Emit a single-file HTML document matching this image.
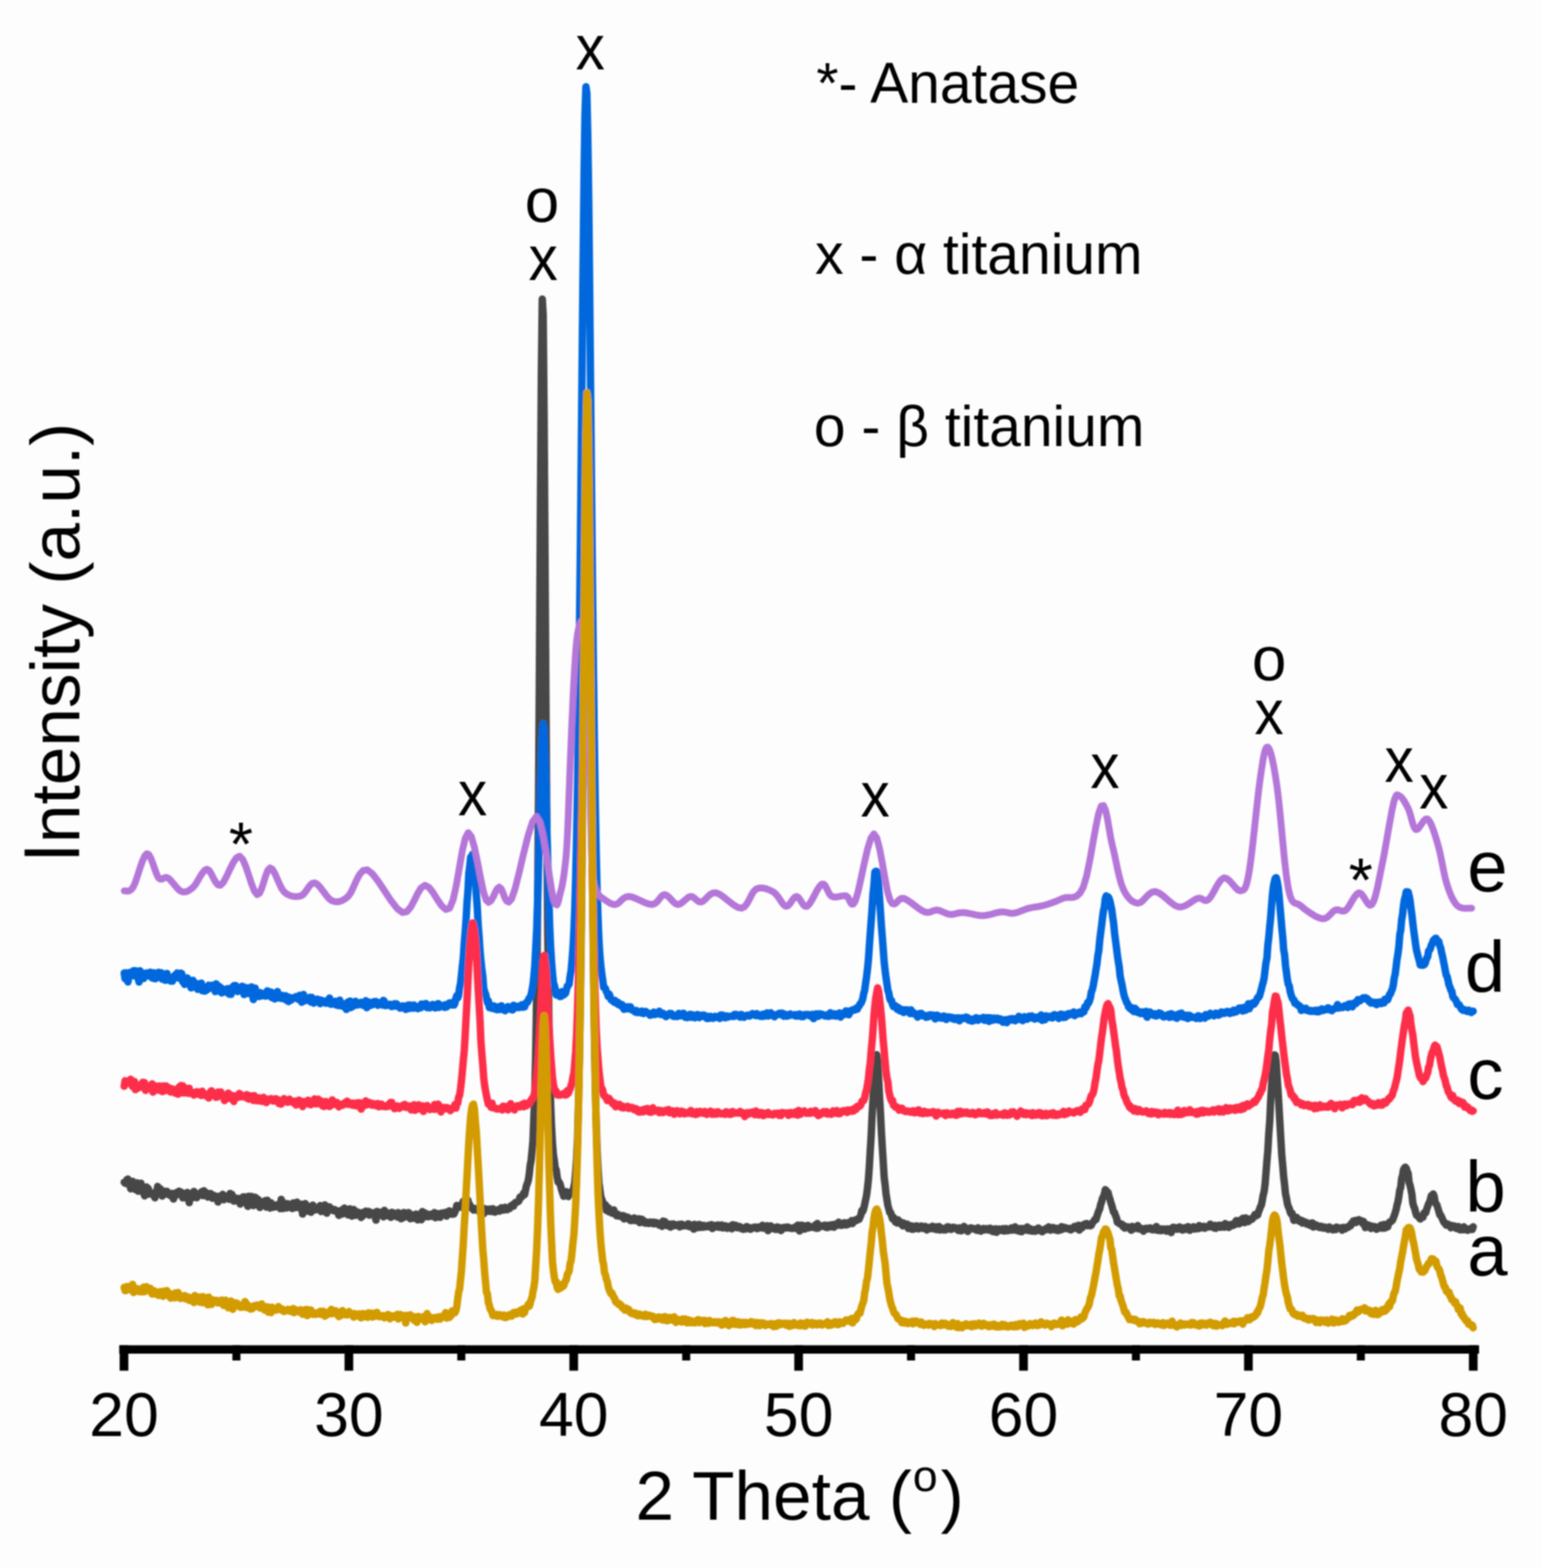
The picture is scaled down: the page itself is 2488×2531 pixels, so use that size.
<!DOCTYPE html>
<html><head><meta charset="utf-8"><style>
html,body{margin:0;padding:0;background:#fdfdfd;}
svg{display:block;}
text{font-family:"Liberation Sans", Arial, Helvetica, sans-serif;fill:#000;}
</style></head><body>
<svg width="2488" height="2531" viewBox="0 0 2488 2531">
<defs><filter id="soft" x="0" y="0" width="2488" height="2531" filterUnits="userSpaceOnUse"><feGaussianBlur stdDeviation="0.8"/></filter></defs>
<rect width="2488" height="2531" fill="#fdfdfd"/>
<g filter="url(#soft)">
<g fill="none" stroke-linejoin="round" stroke-linecap="round">
<path d="M200.5 1908.4L202.0 1909.8L203.5 1910.3L205.0 1904.1L206.5 1903.3L208.0 1911.5L209.5 1912.8L211.0 1918.9L212.5 1914.6L214.0 1906.9L215.5 1916.3L217.0 1918.5L218.5 1920.1L220.0 1917.1L221.5 1909.3L223.0 1922.8L224.5 1913.2L226.0 1920.8L227.5 1909.9L229.0 1923.1L230.5 1915.4L232.0 1926.0L233.5 1930.3L235.0 1927.7L236.5 1915.9L238.0 1917.7L239.5 1918.7L241.0 1927.5L242.5 1925.9L244.0 1925.0L245.5 1925.9L247.0 1927.4L248.5 1927.9L250.0 1933.4L251.5 1924.3L253.0 1925.8L254.5 1915.1L256.0 1918.0L257.5 1921.4L259.0 1918.9L260.5 1926.4L262.0 1930.7L263.5 1923.1L265.0 1923.0L266.5 1922.9L268.0 1926.3L269.5 1923.0L271.0 1928.1L272.5 1927.5L274.0 1927.8L275.5 1930.1L277.0 1926.4L278.5 1927.1L280.0 1935.4L281.5 1926.3L283.0 1930.7L284.5 1927.0L286.0 1924.5L287.5 1924.6L289.0 1922.8L290.5 1927.2L292.0 1924.1L293.5 1925.2L295.0 1933.5L296.5 1926.8L298.0 1933.3L299.5 1929.0L301.0 1932.1L302.5 1924.8L304.0 1928.8L305.5 1941.3L307.0 1932.4L308.5 1933.4L310.0 1929.8L311.5 1933.0L313.0 1923.2L314.5 1924.8L316.0 1931.3L317.5 1933.4L319.0 1927.5L320.5 1928.7L322.0 1928.0L323.5 1929.0L325.0 1924.2L326.5 1923.2L328.0 1929.9L329.5 1922.1L331.0 1925.9L332.5 1927.6L334.0 1925.8L335.5 1932.2L337.0 1929.0L338.5 1930.9L340.0 1926.6L341.5 1928.1L343.0 1934.2L344.5 1933.6L346.0 1929.8L347.5 1933.9L349.0 1933.2L350.5 1933.2L352.0 1940.2L353.5 1930.9L355.0 1934.9L356.5 1935.0L358.0 1932.1L359.5 1927.8L361.0 1936.7L362.5 1934.8L364.0 1934.0L365.5 1934.1L367.0 1934.3L368.5 1930.2L370.0 1935.9L371.5 1926.4L373.0 1934.8L374.5 1928.2L376.0 1933.7L377.5 1938.8L379.0 1934.5L380.5 1933.7L382.0 1938.4L383.5 1935.0L385.0 1934.6L386.5 1934.8L388.0 1943.7L389.5 1940.1L391.0 1939.4L392.5 1932.0L394.0 1940.4L395.5 1932.0L397.0 1940.2L398.5 1933.2L400.0 1947.2L401.5 1931.0L403.0 1944.2L404.5 1942.5L406.0 1931.2L407.5 1938.3L409.0 1946.0L410.5 1944.8L412.0 1932.6L413.5 1937.8L415.0 1935.1L416.5 1936.0L418.0 1937.9L419.5 1949.0L421.0 1941.7L422.5 1940.3L424.0 1940.0L425.5 1944.5L427.0 1944.8L428.5 1937.9L430.0 1948.4L431.5 1937.5L433.0 1941.2L434.5 1944.4L436.0 1950.0L437.5 1941.3L439.0 1944.2L440.5 1948.7L442.0 1945.9L443.5 1948.2L445.0 1947.9L446.5 1944.8L448.0 1946.5L449.5 1947.8L451.0 1944.0L452.5 1951.0L454.0 1936.0L455.5 1940.7L457.0 1950.7L458.5 1946.6L460.0 1942.3L461.5 1946.7L463.0 1949.8L464.5 1943.1L466.0 1948.7L467.5 1945.2L469.0 1945.4L470.5 1945.7L472.0 1950.7L473.5 1941.7L475.0 1945.0L476.5 1949.3L478.0 1941.8L479.5 1940.5L481.0 1949.3L482.5 1947.2L484.0 1946.7L485.5 1948.1L487.0 1943.8L488.5 1959.6L490.0 1944.2L491.5 1946.5L493.0 1942.8L494.5 1947.0L496.0 1954.9L497.5 1949.2L499.0 1951.6L500.5 1947.6L502.0 1956.8L503.5 1950.5L505.0 1945.2L506.5 1953.3L508.0 1949.0L509.5 1953.0L511.0 1951.4L512.5 1952.1L514.0 1951.8L515.5 1948.0L517.0 1945.9L518.5 1955.6L520.0 1951.5L521.5 1953.3L523.0 1950.7L524.5 1944.9L526.0 1948.0L527.5 1958.3L529.0 1950.3L530.5 1952.0L532.0 1948.1L533.5 1951.8L535.0 1952.6L536.5 1953.4L538.0 1954.1L539.5 1952.3L541.0 1952.7L542.5 1954.9L544.0 1956.4L545.5 1954.8L547.0 1961.8L548.5 1956.3L550.0 1956.2L551.5 1953.3L553.0 1959.6L554.5 1952.2L556.0 1950.1L557.5 1952.6L559.0 1958.4L560.5 1952.2L562.0 1961.0L563.5 1956.4L565.0 1951.2L566.5 1955.9L568.0 1963.1L569.5 1953.8L571.0 1952.3L572.5 1958.9L574.0 1961.7L575.5 1960.8L577.0 1956.2L578.5 1958.1L580.0 1958.6L581.5 1961.7L583.0 1965.2L584.5 1957.4L586.0 1962.4L587.5 1956.8L589.0 1960.1L590.5 1955.0L592.0 1955.6L593.5 1959.8L595.0 1955.4L596.5 1961.5L598.0 1956.8L599.5 1959.0L601.0 1958.5L602.5 1957.8L604.0 1959.4L605.5 1962.7L607.0 1969.5L608.5 1955.4L610.0 1960.4L611.5 1959.0L613.0 1956.7L614.5 1960.7L616.0 1957.0L617.5 1959.8L619.0 1964.2L620.5 1953.7L622.0 1961.2L623.5 1961.9L625.0 1957.5L626.5 1962.4L628.0 1962.0L629.5 1959.8L631.0 1964.9L632.5 1957.0L634.0 1963.3L635.5 1960.7L637.0 1958.2L638.5 1961.1L640.0 1960.6L641.5 1964.4L643.0 1957.3L644.5 1961.5L646.0 1960.8L647.5 1967.2L649.0 1959.0L650.5 1965.8L652.0 1957.2L653.5 1963.8L655.0 1962.4L656.5 1964.1L658.0 1960.9L659.5 1957.3L661.0 1958.6L662.5 1967.3L664.0 1964.1L665.5 1961.0L667.0 1966.4L668.5 1961.4L670.0 1961.3L671.5 1959.8L673.0 1966.8L674.5 1969.0L676.0 1960.3L677.5 1963.8L679.0 1965.7L680.5 1968.9L682.0 1955.7L683.5 1963.0L685.0 1964.3L686.5 1958.1L688.0 1963.4L689.5 1962.7L691.0 1964.1L692.5 1960.3L694.0 1963.0L695.5 1960.0L697.0 1963.3L698.5 1961.9L700.0 1960.3L701.5 1957.3L703.0 1965.7L704.5 1964.1L706.0 1963.3L707.5 1958.9L709.0 1959.7L710.5 1965.1L712.0 1962.4L713.5 1957.9L715.0 1960.2L716.5 1960.3L718.0 1959.2L719.5 1957.0L721.0 1962.9L722.5 1960.9L724.0 1958.5L725.5 1954.5L727.0 1957.0L728.5 1958.2L730.0 1960.1L731.5 1956.2L733.0 1959.5L734.5 1956.0L736.0 1952.6L737.5 1945.8L739.0 1948.8L740.5 1946.3L742.0 1948.2L743.5 1947.7L745.0 1948.7L746.5 1943.3L748.0 1938.8L749.5 1946.9L751.0 1940.8L752.5 1939.1L754.0 1939.5L755.5 1937.4L757.0 1943.8L758.5 1944.6L760.0 1949.4L761.5 1949.7L763.0 1950.7L764.5 1953.2L766.0 1950.4L767.5 1951.1L769.0 1953.1L770.5 1950.7L772.0 1954.2L773.5 1954.1L775.0 1957.0L776.5 1955.4L778.0 1950.7L779.5 1955.7L781.0 1959.2L782.5 1950.9L784.0 1953.6L785.5 1955.4L787.0 1951.9L788.5 1953.8L790.0 1955.2L791.5 1951.5L793.0 1955.4L794.5 1955.5L796.0 1951.1L797.5 1954.2L799.0 1956.6L800.5 1953.2L802.0 1954.5L803.5 1954.8L805.0 1952.3L806.5 1955.0L808.0 1953.2L809.5 1949.5L811.0 1952.9L812.5 1953.3L814.0 1952.8L815.5 1948.8L817.0 1951.0L818.5 1952.7L820.0 1949.4L821.5 1951.1L823.0 1950.7L824.5 1946.8L826.0 1947.7L827.5 1944.6L829.0 1947.0L830.5 1943.2L832.0 1941.1L833.5 1941.2L835.0 1939.9L836.5 1939.6L838.0 1938.2L839.5 1932.5L841.0 1931.8L842.5 1931.9L844.0 1929.7L845.5 1925.8L847.0 1928.4L848.5 1920.9L850.0 1913.6L851.5 1910.1L853.0 1905.1L854.5 1895.2L856.0 1880.9L857.5 1873.4L859.0 1857.9L860.5 1841.8L862.0 1802.6L863.5 1766.1L865.0 1696.3L866.5 1602.3L868.0 1464.1L869.5 1286.0L871.0 1068.6L872.5 825.2L874.0 609.6L875.5 482.8L877.0 508.4L878.5 672.4L880.0 904.0L881.5 1142.1L883.0 1352.5L884.5 1511.1L886.0 1631.5L887.5 1720.2L889.0 1781.6L890.5 1818.8L892.0 1845.6L893.5 1864.0L895.0 1873.4L896.5 1885.9L898.0 1888.2L899.5 1899.6L901.0 1907.9L902.5 1907.8L904.0 1910.6L905.5 1915.6L907.0 1921.6L908.5 1925.9L910.0 1930.9L911.5 1929.8L913.0 1924.5L914.5 1923.6L916.0 1929.4L917.5 1931.4L919.0 1925.5L920.5 1927.1L922.0 1926.0L923.5 1924.9L925.0 1920.9L926.5 1916.7L928.0 1908.5L929.5 1891.6L931.0 1869.6L932.5 1836.7L934.0 1778.7L935.5 1706.8L937.0 1615.3L938.5 1499.8L940.0 1357.7L941.5 1208.2L943.0 1053.0L944.5 918.8L946.0 813.1L947.5 764.9L949.0 775.2L950.5 845.7L952.0 964.4L953.5 1108.5L955.0 1259.4L956.5 1411.5L958.0 1539.5L959.5 1656.3L961.0 1747.6L962.5 1808.8L964.0 1855.5L965.5 1886.5L967.0 1909.2L968.5 1920.5L970.0 1931.7L971.5 1935.8L973.0 1939.7L974.5 1943.9L976.0 1946.0L977.5 1944.7L979.0 1954.0L980.5 1951.7L982.0 1949.4L983.5 1956.1L985.0 1955.0L986.5 1956.4L988.0 1958.3L989.5 1956.1L991.0 1952.9L992.5 1959.1L994.0 1960.4L995.5 1962.5L997.0 1959.7L998.5 1961.2L1000.0 1963.0L1001.5 1962.1L1003.0 1962.7L1004.5 1964.1L1006.0 1962.2L1007.5 1967.6L1009.0 1963.3L1010.5 1965.5L1012.0 1965.2L1013.5 1964.9L1015.0 1967.6L1016.5 1968.9L1018.0 1970.1L1019.5 1968.8L1021.0 1967.1L1022.5 1970.0L1024.0 1965.9L1025.5 1969.0L1027.0 1970.3L1028.5 1970.6L1030.0 1967.7L1031.5 1967.3L1033.0 1973.6L1034.5 1969.7L1036.0 1967.9L1037.5 1968.9L1039.0 1971.6L1040.5 1974.0L1042.0 1972.0L1043.5 1974.6L1045.0 1973.0L1046.5 1973.7L1048.0 1974.9L1049.5 1972.6L1051.0 1974.1L1052.5 1973.1L1054.0 1972.8L1055.5 1975.5L1057.0 1973.0L1058.5 1974.9L1060.0 1973.5L1061.5 1975.0L1063.0 1974.4L1064.5 1977.7L1066.0 1976.0L1067.5 1976.3L1069.0 1979.5L1070.5 1971.1L1072.0 1974.7L1073.5 1971.8L1075.0 1977.2L1076.5 1978.1L1078.0 1978.5L1079.5 1977.9L1081.0 1975.8L1082.5 1980.8L1084.0 1978.1L1085.5 1977.1L1087.0 1975.6L1088.5 1978.5L1090.0 1976.9L1091.5 1977.0L1093.0 1978.3L1094.5 1978.4L1096.0 1976.5L1097.5 1980.4L1099.0 1976.2L1100.5 1976.1L1102.0 1978.8L1103.5 1978.5L1105.0 1978.5L1106.5 1977.6L1108.0 1978.5L1109.5 1977.4L1111.0 1975.4L1112.5 1980.0L1114.0 1976.7L1115.5 1978.3L1117.0 1980.1L1118.5 1978.8L1120.0 1984.0L1121.5 1976.3L1123.0 1977.5L1124.5 1979.2L1126.0 1981.6L1127.5 1978.6L1129.0 1976.4L1130.5 1981.3L1132.0 1977.5L1133.5 1978.9L1135.0 1981.0L1136.5 1978.1L1138.0 1978.5L1139.5 1980.4L1141.0 1979.1L1142.5 1980.1L1144.0 1977.8L1145.5 1979.4L1147.0 1977.6L1148.5 1976.8L1150.0 1983.0L1151.5 1980.6L1153.0 1981.5L1154.5 1978.1L1156.0 1979.9L1157.5 1979.6L1159.0 1977.3L1160.5 1981.1L1162.0 1978.7L1163.5 1979.7L1165.0 1977.3L1166.5 1982.1L1168.0 1981.7L1169.5 1981.0L1171.0 1978.6L1172.5 1979.3L1174.0 1982.7L1175.5 1979.9L1177.0 1981.0L1178.5 1980.8L1180.0 1978.5L1181.5 1983.5L1183.0 1976.9L1184.5 1981.1L1186.0 1980.5L1187.5 1977.7L1189.0 1981.4L1190.5 1981.8L1192.0 1981.0L1193.5 1979.4L1195.0 1981.8L1196.5 1983.1L1198.0 1981.4L1199.5 1984.3L1201.0 1982.7L1202.5 1982.6L1204.0 1983.8L1205.5 1980.0L1207.0 1980.3L1208.5 1982.2L1210.0 1982.3L1211.5 1984.2L1213.0 1983.5L1214.5 1981.7L1216.0 1981.9L1217.5 1981.0L1219.0 1980.8L1220.5 1980.7L1222.0 1983.3L1223.5 1980.8L1225.0 1981.0L1226.5 1982.0L1228.0 1980.8L1229.5 1981.3L1231.0 1977.7L1232.5 1982.5L1234.0 1981.3L1235.5 1982.3L1237.0 1982.6L1238.5 1978.5L1240.0 1986.5L1241.5 1982.4L1243.0 1982.5L1244.5 1978.8L1246.0 1983.3L1247.5 1982.9L1249.0 1981.5L1250.5 1982.6L1252.0 1984.5L1253.5 1981.5L1255.0 1980.4L1256.5 1984.6L1258.0 1982.5L1259.5 1981.7L1261.0 1986.3L1262.5 1982.3L1264.0 1981.6L1265.5 1982.4L1267.0 1981.1L1268.5 1982.2L1270.0 1982.1L1271.5 1980.5L1273.0 1981.2L1274.5 1982.3L1276.0 1982.4L1277.5 1982.7L1279.0 1983.0L1280.5 1982.0L1282.0 1982.4L1283.5 1980.7L1285.0 1980.9L1286.5 1983.3L1288.0 1977.6L1289.5 1981.9L1291.0 1987.1L1292.5 1977.7L1294.0 1983.9L1295.5 1977.8L1297.0 1981.7L1298.5 1984.0L1300.0 1983.6L1301.5 1979.1L1303.0 1978.3L1304.5 1978.0L1306.0 1982.0L1307.5 1979.8L1309.0 1980.5L1310.5 1980.9L1312.0 1981.1L1313.5 1981.3L1315.0 1980.5L1316.5 1977.2L1318.0 1982.8L1319.5 1975.0L1321.0 1982.3L1322.5 1978.8L1324.0 1979.5L1325.5 1978.8L1327.0 1979.0L1328.5 1979.5L1330.0 1979.0L1331.5 1977.4L1333.0 1980.9L1334.5 1978.1L1336.0 1981.6L1337.5 1978.7L1339.0 1977.6L1340.5 1979.6L1342.0 1980.3L1343.5 1976.8L1345.0 1977.8L1346.5 1980.9L1348.0 1976.2L1349.5 1976.3L1351.0 1978.1L1352.5 1975.3L1354.0 1972.8L1355.5 1974.1L1357.0 1977.7L1358.5 1977.9L1360.0 1977.6L1361.5 1976.9L1363.0 1973.7L1364.5 1976.9L1366.0 1977.4L1367.5 1973.7L1369.0 1976.4L1370.5 1973.6L1372.0 1974.3L1373.5 1974.1L1375.0 1970.2L1376.5 1975.1L1378.0 1970.2L1379.5 1970.9L1381.0 1969.3L1382.5 1970.2L1384.0 1969.1L1385.5 1967.1L1387.0 1968.2L1388.5 1964.4L1390.0 1961.0L1391.5 1953.8L1393.0 1955.3L1394.5 1950.9L1396.0 1944.2L1397.5 1936.9L1399.0 1930.0L1400.5 1918.5L1402.0 1904.6L1403.5 1884.1L1405.0 1857.8L1406.5 1833.3L1408.0 1801.1L1409.5 1774.5L1411.0 1744.7L1412.5 1718.8L1414.0 1704.9L1415.5 1702.4L1417.0 1712.7L1418.5 1737.9L1420.0 1769.2L1421.5 1795.5L1423.0 1825.8L1424.5 1851.6L1426.0 1874.8L1427.5 1900.0L1429.0 1912.0L1430.5 1926.9L1432.0 1936.4L1433.5 1945.9L1435.0 1951.0L1436.5 1956.9L1438.0 1957.3L1439.5 1962.3L1441.0 1967.4L1442.5 1964.9L1444.0 1967.2L1445.5 1972.4L1447.0 1971.8L1448.5 1974.1L1450.0 1969.0L1451.5 1974.2L1453.0 1972.3L1454.5 1972.8L1456.0 1976.7L1457.5 1978.7L1459.0 1974.3L1460.5 1975.5L1462.0 1976.8L1463.5 1978.0L1465.0 1976.1L1466.5 1983.0L1468.0 1980.3L1469.5 1978.8L1471.0 1978.7L1472.5 1984.2L1474.0 1984.2L1475.5 1979.4L1477.0 1981.1L1478.5 1983.0L1480.0 1978.7L1481.5 1979.9L1483.0 1983.6L1484.5 1980.0L1486.0 1980.6L1487.5 1979.0L1489.0 1980.2L1490.5 1983.0L1492.0 1980.3L1493.5 1979.5L1495.0 1980.9L1496.5 1985.4L1498.0 1982.5L1499.5 1981.2L1501.0 1982.6L1502.5 1983.2L1504.0 1982.7L1505.5 1979.2L1507.0 1983.2L1508.5 1982.3L1510.0 1984.3L1511.5 1980.3L1513.0 1984.8L1514.5 1982.0L1516.0 1979.8L1517.5 1985.4L1519.0 1982.1L1520.5 1983.8L1522.0 1982.8L1523.5 1985.2L1525.0 1985.3L1526.5 1985.3L1528.0 1984.6L1529.5 1980.4L1531.0 1980.3L1532.5 1983.8L1534.0 1981.7L1535.5 1984.4L1537.0 1983.8L1538.5 1981.0L1540.0 1981.7L1541.5 1981.6L1543.0 1982.0L1544.5 1983.3L1546.0 1985.0L1547.5 1986.2L1549.0 1982.0L1550.5 1982.8L1552.0 1986.7L1553.5 1985.5L1555.0 1984.3L1556.5 1979.6L1558.0 1982.1L1559.5 1984.3L1561.0 1982.9L1562.5 1987.7L1564.0 1984.2L1565.5 1984.6L1567.0 1982.1L1568.5 1982.2L1570.0 1982.9L1571.5 1983.0L1573.0 1983.8L1574.5 1984.9L1576.0 1984.7L1577.5 1986.1L1579.0 1981.8L1580.5 1984.7L1582.0 1984.8L1583.5 1987.3L1585.0 1984.0L1586.5 1985.0L1588.0 1982.9L1589.5 1985.2L1591.0 1985.2L1592.5 1983.3L1594.0 1983.7L1595.5 1984.5L1597.0 1985.6L1598.5 1982.4L1600.0 1986.2L1601.5 1984.0L1603.0 1988.1L1604.5 1987.3L1606.0 1983.9L1607.5 1983.5L1609.0 1989.2L1610.5 1985.8L1612.0 1985.7L1613.5 1983.9L1615.0 1984.5L1616.5 1986.2L1618.0 1985.9L1619.5 1983.3L1621.0 1987.1L1622.5 1985.4L1624.0 1983.1L1625.5 1986.7L1627.0 1984.5L1628.5 1986.3L1630.0 1983.9L1631.5 1985.6L1633.0 1982.0L1634.5 1985.6L1636.0 1982.2L1637.5 1985.3L1639.0 1980.3L1640.5 1984.9L1642.0 1986.3L1643.5 1985.9L1645.0 1987.2L1646.5 1983.1L1648.0 1987.9L1649.5 1988.0L1651.0 1982.9L1652.5 1983.6L1654.0 1984.1L1655.5 1985.1L1657.0 1985.5L1658.5 1980.6L1660.0 1986.2L1661.5 1984.7L1663.0 1983.3L1664.5 1986.9L1666.0 1984.6L1667.5 1987.3L1669.0 1986.2L1670.5 1984.6L1672.0 1987.3L1673.5 1986.7L1675.0 1984.3L1676.5 1982.3L1678.0 1984.3L1679.5 1986.4L1681.0 1984.8L1682.5 1988.3L1684.0 1985.5L1685.5 1985.3L1687.0 1985.6L1688.5 1983.2L1690.0 1984.5L1691.5 1983.4L1693.0 1980.3L1694.5 1981.2L1696.0 1985.7L1697.5 1983.5L1699.0 1984.0L1700.5 1981.4L1702.0 1983.0L1703.5 1985.4L1705.0 1984.0L1706.5 1982.8L1708.0 1986.4L1709.5 1983.5L1711.0 1982.8L1712.5 1985.4L1714.0 1980.1L1715.5 1984.2L1717.0 1981.0L1718.5 1981.5L1720.0 1981.6L1721.5 1983.0L1723.0 1982.8L1724.5 1983.1L1726.0 1982.8L1727.5 1984.8L1729.0 1985.2L1730.5 1983.3L1732.0 1983.3L1733.5 1981.1L1735.0 1979.6L1736.5 1982.5L1738.0 1981.4L1739.5 1982.7L1741.0 1977.7L1742.5 1985.6L1744.0 1978.3L1745.5 1980.4L1747.0 1981.9L1748.5 1977.4L1750.0 1978.6L1751.5 1975.7L1753.0 1976.4L1754.5 1975.1L1756.0 1978.4L1757.5 1978.2L1759.0 1976.5L1760.5 1978.5L1762.0 1977.8L1763.5 1974.1L1765.0 1972.4L1766.5 1970.5L1768.0 1968.0L1769.5 1968.5L1771.0 1963.4L1772.5 1958.6L1774.0 1954.5L1775.5 1951.2L1777.0 1944.3L1778.5 1940.2L1780.0 1934.3L1781.5 1931.9L1783.0 1927.6L1784.5 1920.3L1786.0 1921.7L1787.5 1924.3L1789.0 1924.9L1790.5 1931.2L1792.0 1935.3L1793.5 1941.2L1795.0 1945.5L1796.5 1951.4L1798.0 1956.6L1799.5 1957.4L1801.0 1962.3L1802.5 1965.4L1804.0 1973.0L1805.5 1972.8L1807.0 1974.7L1808.5 1975.8L1810.0 1975.8L1811.5 1976.3L1813.0 1979.9L1814.5 1978.3L1816.0 1982.3L1817.5 1980.3L1819.0 1980.4L1820.5 1980.2L1822.0 1980.7L1823.5 1981.1L1825.0 1984.0L1826.5 1985.7L1828.0 1979.6L1829.5 1982.3L1831.0 1983.3L1832.5 1980.5L1834.0 1981.2L1835.5 1981.6L1837.0 1978.2L1838.5 1983.8L1840.0 1982.7L1841.5 1982.7L1843.0 1983.1L1844.5 1983.5L1846.0 1987.3L1847.5 1983.6L1849.0 1984.8L1850.5 1982.5L1852.0 1984.1L1853.5 1983.0L1855.0 1983.4L1856.5 1982.1L1858.0 1982.3L1859.5 1984.7L1861.0 1985.3L1862.5 1984.8L1864.0 1982.9L1865.5 1984.7L1867.0 1979.7L1868.5 1985.9L1870.0 1984.3L1871.5 1984.9L1873.0 1986.5L1874.5 1983.7L1876.0 1986.3L1877.5 1983.8L1879.0 1985.6L1880.5 1984.0L1882.0 1985.3L1883.5 1987.4L1885.0 1983.7L1886.5 1983.8L1888.0 1984.3L1889.5 1985.3L1891.0 1989.6L1892.5 1983.6L1894.0 1980.9L1895.5 1983.3L1897.0 1981.5L1898.5 1983.2L1900.0 1984.2L1901.5 1982.3L1903.0 1982.7L1904.5 1980.5L1906.0 1984.1L1907.5 1982.3L1909.0 1985.5L1910.5 1985.3L1912.0 1981.8L1913.5 1982.6L1915.0 1983.2L1916.5 1984.4L1918.0 1980.0L1919.5 1982.7L1921.0 1986.0L1922.5 1982.5L1924.0 1982.9L1925.5 1982.4L1927.0 1980.2L1928.5 1983.9L1930.0 1982.6L1931.5 1982.3L1933.0 1983.2L1934.5 1983.2L1936.0 1978.3L1937.5 1982.4L1939.0 1980.4L1940.5 1981.6L1942.0 1979.9L1943.5 1979.5L1945.0 1982.6L1946.5 1980.8L1948.0 1980.2L1949.5 1980.1L1951.0 1980.6L1952.5 1980.3L1954.0 1976.0L1955.5 1978.5L1957.0 1979.5L1958.5 1981.1L1960.0 1982.0L1961.5 1977.9L1963.0 1982.8L1964.5 1979.4L1966.0 1979.9L1967.5 1978.0L1969.0 1977.7L1970.5 1981.1L1972.0 1978.1L1973.5 1978.1L1975.0 1980.2L1976.5 1981.0L1978.0 1975.1L1979.5 1977.2L1981.0 1977.4L1982.5 1980.4L1984.0 1981.3L1985.5 1976.7L1987.0 1977.2L1988.5 1977.8L1990.0 1978.1L1991.5 1975.3L1993.0 1977.1L1994.5 1974.1L1996.0 1970.3L1997.5 1972.3L1999.0 1974.8L2000.5 1975.5L2002.0 1969.8L2003.5 1970.2L2005.0 1972.9L2006.5 1966.6L2008.0 1973.1L2009.5 1973.5L2011.0 1965.9L2012.5 1972.0L2014.0 1969.7L2015.5 1971.9L2017.0 1969.1L2018.5 1967.5L2020.0 1967.3L2021.5 1968.0L2023.0 1965.7L2024.5 1964.4L2026.0 1960.6L2027.5 1962.6L2029.0 1960.2L2030.5 1961.3L2032.0 1955.7L2033.5 1952.5L2035.0 1947.8L2036.5 1945.4L2038.0 1937.7L2039.5 1929.0L2041.0 1923.3L2042.5 1911.4L2044.0 1892.7L2045.5 1873.8L2047.0 1856.8L2048.5 1829.7L2050.0 1810.2L2051.5 1777.8L2053.0 1753.0L2054.5 1725.2L2056.0 1709.6L2057.5 1702.8L2059.0 1703.5L2060.5 1713.9L2062.0 1739.4L2063.5 1761.6L2065.0 1787.1L2066.5 1813.5L2068.0 1839.4L2069.5 1865.0L2071.0 1881.2L2072.5 1899.5L2074.0 1912.0L2075.5 1927.1L2077.0 1933.7L2078.5 1942.7L2080.0 1947.9L2081.5 1950.4L2083.0 1956.2L2084.5 1959.5L2086.0 1958.2L2087.5 1963.4L2089.0 1970.0L2090.5 1964.7L2092.0 1967.5L2093.5 1965.1L2095.0 1969.2L2096.5 1968.2L2098.0 1971.5L2099.5 1970.8L2101.0 1969.6L2102.5 1974.2L2104.0 1972.6L2105.5 1971.8L2107.0 1974.2L2108.5 1972.9L2110.0 1975.8L2111.5 1975.4L2113.0 1975.3L2114.5 1977.5L2116.0 1974.5L2117.5 1978.8L2119.0 1973.9L2120.5 1980.6L2122.0 1978.4L2123.5 1978.0L2125.0 1977.4L2126.5 1980.0L2128.0 1979.0L2129.5 1979.2L2131.0 1981.6L2132.5 1979.3L2134.0 1979.9L2135.5 1981.3L2137.0 1982.6L2138.5 1980.7L2140.0 1981.5L2141.5 1981.5L2143.0 1982.9L2144.5 1984.4L2146.0 1980.4L2147.5 1982.0L2149.0 1982.3L2150.5 1983.6L2152.0 1985.2L2153.5 1982.6L2155.0 1983.1L2156.5 1984.8L2158.0 1980.7L2159.5 1981.5L2161.0 1982.1L2162.5 1982.9L2164.0 1983.2L2165.5 1981.9L2167.0 1985.7L2168.5 1981.2L2170.0 1981.9L2171.5 1983.8L2173.0 1982.8L2174.5 1980.8L2176.0 1980.8L2177.5 1980.8L2179.0 1978.4L2180.5 1978.5L2182.0 1974.7L2183.5 1975.2L2185.0 1971.1L2186.5 1971.3L2188.0 1969.9L2189.5 1973.2L2191.0 1969.7L2192.5 1970.8L2194.0 1968.7L2195.5 1970.4L2197.0 1970.9L2198.5 1970.8L2200.0 1974.9L2201.5 1971.6L2203.0 1976.8L2204.5 1981.6L2206.0 1976.6L2207.5 1979.1L2209.0 1977.2L2210.5 1980.7L2212.0 1978.4L2213.5 1983.0L2215.0 1981.5L2216.5 1979.4L2218.0 1980.5L2219.5 1980.1L2221.0 1982.3L2222.5 1984.3L2224.0 1981.9L2225.5 1980.4L2227.0 1980.8L2228.5 1982.3L2230.0 1977.5L2231.5 1982.5L2233.0 1981.8L2234.5 1976.4L2236.0 1982.3L2237.5 1976.8L2239.0 1978.7L2240.5 1980.3L2242.0 1974.4L2243.5 1972.8L2245.0 1972.6L2246.5 1970.7L2248.0 1969.9L2249.5 1966.2L2251.0 1962.5L2252.5 1957.9L2254.0 1952.9L2255.5 1945.4L2257.0 1940.1L2258.5 1931.4L2260.0 1920.8L2261.5 1916.7L2263.0 1902.2L2264.5 1897.4L2266.0 1888.0L2267.5 1885.4L2269.0 1884.0L2270.5 1886.0L2272.0 1891.3L2273.5 1894.0L2275.0 1908.5L2276.5 1912.9L2278.0 1919.7L2279.5 1927.2L2281.0 1941.5L2282.5 1947.2L2284.0 1950.3L2285.5 1956.6L2287.0 1961.5L2288.5 1962.4L2290.0 1963.6L2291.5 1965.6L2293.0 1967.6L2294.5 1965.9L2296.0 1962.8L2297.5 1964.7L2299.0 1958.1L2300.5 1957.0L2302.0 1957.1L2303.5 1951.6L2305.0 1947.5L2306.5 1943.1L2308.0 1940.8L2309.5 1935.6L2311.0 1929.8L2312.5 1932.6L2314.0 1927.2L2315.5 1930.9L2317.0 1940.3L2318.5 1943.3L2320.0 1945.1L2321.5 1950.3L2323.0 1955.0L2324.5 1960.8L2326.0 1961.4L2327.5 1964.6L2329.0 1967.9L2330.5 1971.6L2332.0 1973.8L2333.5 1974.3L2335.0 1977.6L2336.5 1975.5L2338.0 1978.0L2339.5 1977.6L2341.0 1977.5L2342.5 1981.8L2344.0 1979.5L2345.5 1978.6L2347.0 1980.6L2348.5 1979.0L2350.0 1982.0L2351.5 1982.7L2353.0 1983.2L2354.5 1979.8L2356.0 1981.5L2357.5 1985.2L2359.0 1981.8L2360.5 1984.5L2362.0 1985.1L2363.5 1980.2L2365.0 1984.8L2366.5 1984.2L2368.0 1984.5L2369.5 1986.0L2371.0 1984.0L2372.5 1983.5L2374.0 1984.5L2375.5 1982.9L2377.0 1984.5L2378.5 1980.2" stroke="#464646" stroke-width="12"/>
<path d="M200.5 1570.6L202.0 1580.0L203.5 1570.3L205.0 1574.0L206.5 1585.0L208.0 1577.6L209.5 1569.7L211.0 1575.1L212.5 1571.2L214.0 1573.2L215.5 1566.9L217.0 1575.2L218.5 1567.0L220.0 1576.1L221.5 1576.2L223.0 1578.6L224.5 1585.1L226.0 1567.1L227.5 1569.4L229.0 1570.4L230.5 1572.5L232.0 1579.4L233.5 1573.8L235.0 1572.8L236.5 1570.4L238.0 1572.8L239.5 1573.8L241.0 1575.4L242.5 1569.3L244.0 1575.6L245.5 1578.6L247.0 1577.6L248.5 1570.3L250.0 1579.8L251.5 1579.8L253.0 1577.5L254.5 1570.6L256.0 1569.5L257.5 1576.4L259.0 1571.6L260.5 1570.3L262.0 1580.4L263.5 1580.5L265.0 1579.3L266.5 1582.3L268.0 1580.5L269.5 1571.3L271.0 1581.7L272.5 1577.1L274.0 1578.6L275.5 1583.6L277.0 1578.6L278.5 1583.7L280.0 1577.0L281.5 1575.1L283.0 1573.7L284.5 1576.8L286.0 1570.6L287.5 1578.4L289.0 1578.8L290.5 1577.6L292.0 1570.8L293.5 1571.8L295.0 1584.8L296.5 1578.2L298.0 1589.0L299.5 1580.5L301.0 1585.8L302.5 1578.6L304.0 1582.7L305.5 1585.2L307.0 1589.2L308.5 1594.6L310.0 1592.1L311.5 1582.4L313.0 1589.0L314.5 1588.6L316.0 1586.9L317.5 1592.4L319.0 1596.9L320.5 1588.5L322.0 1595.5L323.5 1597.0L325.0 1586.9L326.5 1599.2L328.0 1599.1L329.5 1593.5L331.0 1599.8L332.5 1593.9L334.0 1598.0L335.5 1596.2L337.0 1590.2L338.5 1595.2L340.0 1593.7L341.5 1592.6L343.0 1590.2L344.5 1592.0L346.0 1590.5L347.5 1600.6L349.0 1588.1L350.5 1596.8L352.0 1594.3L353.5 1591.9L355.0 1600.3L356.5 1594.4L358.0 1602.7L359.5 1597.0L361.0 1599.1L362.5 1597.2L364.0 1600.4L365.5 1601.6L367.0 1595.9L368.5 1597.7L370.0 1604.8L371.5 1595.4L373.0 1605.0L374.5 1596.2L376.0 1595.5L377.5 1591.0L379.0 1594.4L380.5 1590.8L382.0 1595.5L383.5 1600.5L385.0 1597.5L386.5 1595.4L388.0 1593.7L389.5 1595.0L391.0 1592.0L392.5 1592.7L394.0 1605.4L395.5 1598.7L397.0 1594.1L398.5 1600.3L400.0 1603.6L401.5 1595.4L403.0 1597.9L404.5 1593.9L406.0 1593.1L407.5 1605.1L409.0 1613.4L410.5 1597.8L412.0 1594.9L413.5 1607.0L415.0 1606.1L416.5 1604.3L418.0 1608.6L419.5 1602.2L421.0 1605.0L422.5 1607.4L424.0 1603.6L425.5 1607.1L427.0 1604.9L428.5 1607.9L430.0 1607.3L431.5 1599.4L433.0 1607.3L434.5 1601.7L436.0 1604.0L437.5 1601.2L439.0 1610.5L440.5 1606.4L442.0 1606.3L443.5 1612.5L445.0 1610.6L446.5 1607.4L448.0 1600.6L449.5 1610.8L451.0 1607.6L452.5 1607.4L454.0 1611.5L455.5 1606.7L457.0 1608.8L458.5 1612.5L460.0 1611.4L461.5 1607.3L463.0 1614.9L464.5 1613.9L466.0 1616.7L467.5 1609.8L469.0 1610.9L470.5 1614.1L472.0 1612.0L473.5 1611.1L475.0 1610.4L476.5 1609.8L478.0 1608.7L479.5 1608.9L481.0 1612.7L482.5 1610.4L484.0 1606.6L485.5 1611.9L487.0 1617.7L488.5 1616.8L490.0 1605.2L491.5 1609.4L493.0 1615.2L494.5 1612.9L496.0 1613.0L497.5 1612.5L499.0 1613.3L500.5 1609.7L502.0 1617.5L503.5 1609.9L505.0 1613.2L506.5 1619.2L508.0 1617.9L509.5 1614.4L511.0 1614.6L512.5 1612.9L514.0 1613.4L515.5 1614.6L517.0 1620.1L518.5 1614.4L520.0 1618.0L521.5 1617.8L523.0 1617.9L524.5 1615.9L526.0 1619.5L527.5 1617.8L529.0 1617.8L530.5 1616.2L532.0 1610.9L533.5 1620.6L535.0 1621.0L536.5 1617.0L538.0 1618.4L539.5 1620.1L541.0 1616.2L542.5 1622.0L544.0 1622.2L545.5 1622.9L547.0 1623.3L548.5 1614.4L550.0 1622.2L551.5 1619.1L553.0 1624.1L554.5 1623.9L556.0 1623.1L557.5 1620.2L559.0 1629.4L560.5 1620.3L562.0 1617.2L563.5 1623.5L565.0 1615.9L566.5 1626.5L568.0 1623.7L569.5 1624.6L571.0 1623.7L572.5 1621.7L574.0 1616.3L575.5 1618.6L577.0 1622.2L578.5 1619.8L580.0 1621.6L581.5 1618.3L583.0 1618.0L584.5 1621.3L586.0 1622.7L587.5 1620.4L589.0 1617.4L590.5 1615.3L592.0 1626.5L593.5 1616.9L595.0 1617.7L596.5 1618.1L598.0 1623.0L599.5 1618.0L601.0 1621.9L602.5 1621.2L604.0 1616.8L605.5 1620.7L607.0 1616.6L608.5 1619.9L610.0 1622.7L611.5 1620.0L613.0 1618.2L614.5 1619.8L616.0 1620.6L617.5 1622.3L619.0 1614.8L620.5 1616.2L622.0 1623.2L623.5 1621.6L625.0 1622.1L626.5 1622.8L628.0 1621.9L629.5 1621.2L631.0 1623.0L632.5 1624.7L634.0 1623.9L635.5 1623.2L637.0 1620.3L638.5 1624.1L640.0 1620.3L641.5 1621.8L643.0 1624.3L644.5 1624.3L646.0 1627.2L647.5 1626.8L649.0 1625.8L650.5 1623.7L652.0 1624.6L653.5 1624.0L655.0 1629.4L656.5 1625.9L658.0 1622.9L659.5 1622.3L661.0 1628.0L662.5 1622.3L664.0 1625.6L665.5 1625.1L667.0 1627.5L668.5 1622.2L670.0 1625.8L671.5 1625.1L673.0 1626.7L674.5 1628.2L676.0 1624.8L677.5 1623.9L679.0 1626.8L680.5 1620.7L682.0 1624.9L683.5 1621.8L685.0 1621.2L686.5 1620.2L688.0 1620.0L689.5 1626.4L691.0 1626.5L692.5 1624.5L694.0 1626.8L695.5 1624.2L697.0 1622.7L698.5 1621.2L700.0 1625.8L701.5 1625.9L703.0 1626.9L704.5 1621.6L706.0 1622.8L707.5 1619.9L709.0 1626.2L710.5 1625.1L712.0 1624.6L713.5 1623.3L715.0 1623.0L716.5 1622.4L718.0 1626.1L719.5 1621.7L721.0 1625.4L722.5 1623.8L724.0 1620.4L725.5 1619.1L727.0 1620.4L728.5 1621.9L730.0 1618.2L731.5 1622.2L733.0 1622.3L734.5 1619.3L736.0 1611.6L737.5 1607.0L739.0 1610.8L740.5 1606.8L742.0 1594.8L743.5 1587.8L745.0 1574.2L746.5 1559.2L748.0 1546.4L749.5 1523.4L751.0 1505.5L752.5 1484.7L754.0 1456.7L755.5 1438.6L757.0 1409.9L758.5 1397.8L760.0 1383.3L761.5 1383.6L763.0 1378.8L764.5 1385.1L766.0 1405.2L767.5 1416.6L769.0 1443.3L770.5 1463.8L772.0 1492.5L773.5 1511.5L775.0 1534.6L776.5 1551.0L778.0 1564.5L779.5 1575.5L781.0 1595.8L782.5 1600.8L784.0 1604.3L785.5 1611.4L787.0 1618.4L788.5 1615.5L790.0 1626.4L791.5 1622.1L793.0 1623.0L794.5 1627.8L796.0 1626.0L797.5 1623.8L799.0 1628.7L800.5 1628.0L802.0 1629.9L803.5 1625.5L805.0 1625.3L806.5 1629.6L808.0 1627.3L809.5 1623.4L811.0 1627.1L812.5 1629.9L814.0 1626.9L815.5 1631.5L817.0 1627.4L818.5 1628.3L820.0 1624.7L821.5 1626.5L823.0 1627.8L824.5 1629.4L826.0 1628.4L827.5 1630.2L829.0 1622.7L830.5 1627.4L832.0 1626.7L833.5 1624.4L835.0 1626.3L836.5 1624.3L838.0 1626.4L839.5 1624.2L841.0 1625.5L842.5 1621.8L844.0 1625.9L845.5 1623.2L847.0 1625.3L848.5 1620.0L850.0 1617.9L851.5 1617.8L853.0 1614.6L854.5 1611.0L856.0 1610.2L857.5 1605.7L859.0 1598.2L860.5 1589.9L862.0 1575.5L863.5 1559.1L865.0 1529.6L866.5 1501.1L868.0 1452.9L869.5 1401.3L871.0 1336.7L872.5 1278.1L874.0 1221.0L875.5 1183.1L877.0 1167.9L878.5 1177.1L880.0 1222.9L881.5 1272.9L883.0 1340.3L884.5 1396.9L886.0 1447.6L887.5 1495.7L889.0 1528.8L890.5 1552.3L892.0 1571.0L893.5 1586.0L895.0 1590.4L896.5 1596.8L898.0 1605.9L899.5 1602.7L901.0 1606.4L902.5 1607.3L904.0 1608.6L905.5 1608.3L907.0 1600.7L908.5 1603.9L910.0 1606.0L911.5 1600.3L913.0 1603.5L914.5 1597.7L916.0 1591.4L917.5 1590.8L919.0 1588.1L920.5 1575.4L922.0 1567.7L923.5 1550.7L925.0 1531.5L926.5 1505.2L928.0 1468.0L929.5 1416.3L931.0 1348.4L932.5 1266.7L934.0 1153.6L935.5 1026.2L937.0 887.7L938.5 731.3L940.0 568.0L941.5 420.7L943.0 282.8L944.5 184.1L946.0 140.1L947.5 150.3L949.0 219.1L950.5 322.5L952.0 464.7L953.5 623.9L955.0 783.4L956.5 936.5L958.0 1073.3L959.5 1191.2L961.0 1292.8L962.5 1374.7L964.0 1436.8L965.5 1480.7L967.0 1517.4L968.5 1542.0L970.0 1558.2L971.5 1571.2L973.0 1581.3L974.5 1593.4L976.0 1593.7L977.5 1595.9L979.0 1600.7L980.5 1602.9L982.0 1608.5L983.5 1604.5L985.0 1608.4L986.5 1613.7L988.0 1614.4L989.5 1615.0L991.0 1617.5L992.5 1614.8L994.0 1618.9L995.5 1617.0L997.0 1617.6L998.5 1621.5L1000.0 1619.8L1001.5 1621.5L1003.0 1624.1L1004.5 1621.8L1006.0 1625.6L1007.5 1629.2L1009.0 1625.4L1010.5 1628.2L1012.0 1628.4L1013.5 1625.2L1015.0 1625.6L1016.5 1628.6L1018.0 1625.2L1019.5 1629.6L1021.0 1630.4L1022.5 1631.2L1024.0 1631.6L1025.5 1633.6L1027.0 1631.0L1028.5 1634.4L1030.0 1633.3L1031.5 1633.6L1033.0 1632.7L1034.5 1635.0L1036.0 1632.1L1037.5 1635.0L1039.0 1636.0L1040.5 1632.9L1042.0 1632.6L1043.5 1633.2L1045.0 1634.7L1046.5 1635.6L1048.0 1636.7L1049.5 1638.8L1051.0 1638.4L1052.5 1636.1L1054.0 1635.1L1055.5 1633.8L1057.0 1637.6L1058.5 1637.2L1060.0 1635.9L1061.5 1636.3L1063.0 1636.5L1064.5 1632.2L1066.0 1636.9L1067.5 1637.7L1069.0 1637.0L1070.5 1635.5L1072.0 1637.6L1073.5 1638.5L1075.0 1641.0L1076.5 1639.8L1078.0 1639.1L1079.5 1638.0L1081.0 1635.8L1082.5 1637.5L1084.0 1636.0L1085.5 1638.4L1087.0 1640.6L1088.5 1640.7L1090.0 1640.5L1091.5 1639.0L1093.0 1640.9L1094.5 1638.7L1096.0 1635.8L1097.5 1639.7L1099.0 1639.6L1100.5 1636.4L1102.0 1638.7L1103.5 1635.4L1105.0 1639.0L1106.5 1642.2L1108.0 1638.9L1109.5 1642.6L1111.0 1640.7L1112.5 1639.0L1114.0 1637.2L1115.5 1641.9L1117.0 1641.8L1118.5 1638.0L1120.0 1640.0L1121.5 1642.9L1123.0 1639.6L1124.5 1641.8L1126.0 1637.6L1127.5 1639.5L1129.0 1642.6L1130.5 1639.2L1132.0 1638.8L1133.5 1638.8L1135.0 1640.6L1136.5 1638.4L1138.0 1641.0L1139.5 1642.2L1141.0 1643.9L1142.5 1640.4L1144.0 1644.0L1145.5 1642.1L1147.0 1640.6L1148.5 1641.9L1150.0 1643.7L1151.5 1643.6L1153.0 1642.2L1154.5 1640.6L1156.0 1642.3L1157.5 1641.1L1159.0 1641.0L1160.5 1641.1L1162.0 1643.9L1163.5 1638.4L1165.0 1640.4L1166.5 1638.5L1168.0 1642.0L1169.5 1642.4L1171.0 1642.8L1172.5 1639.7L1174.0 1640.4L1175.5 1641.6L1177.0 1640.5L1178.5 1640.7L1180.0 1640.5L1181.5 1640.5L1183.0 1639.8L1184.5 1640.8L1186.0 1637.3L1187.5 1639.1L1189.0 1637.4L1190.5 1639.6L1192.0 1638.4L1193.5 1640.7L1195.0 1641.9L1196.5 1637.4L1198.0 1638.1L1199.5 1640.1L1201.0 1642.1L1202.5 1640.8L1204.0 1640.2L1205.5 1639.2L1207.0 1638.5L1208.5 1639.9L1210.0 1640.1L1211.5 1639.4L1213.0 1638.0L1214.5 1636.1L1216.0 1637.4L1217.5 1638.2L1219.0 1636.8L1220.5 1639.4L1222.0 1636.2L1223.5 1638.1L1225.0 1639.3L1226.5 1640.1L1228.0 1639.0L1229.5 1640.7L1231.0 1637.4L1232.5 1637.0L1234.0 1640.3L1235.5 1636.7L1237.0 1637.9L1238.5 1635.0L1240.0 1640.1L1241.5 1639.3L1243.0 1636.6L1244.5 1634.8L1246.0 1638.4L1247.5 1638.4L1249.0 1640.1L1250.5 1641.3L1252.0 1638.4L1253.5 1637.7L1255.0 1637.6L1256.5 1637.5L1258.0 1635.6L1259.5 1636.5L1261.0 1638.0L1262.5 1635.2L1264.0 1635.8L1265.5 1640.4L1267.0 1637.0L1268.5 1639.7L1270.0 1640.2L1271.5 1638.3L1273.0 1639.8L1274.5 1638.0L1276.0 1636.8L1277.5 1638.1L1279.0 1638.5L1280.5 1638.6L1282.0 1638.5L1283.5 1637.7L1285.0 1640.3L1286.5 1638.1L1288.0 1637.7L1289.5 1640.1L1291.0 1636.7L1292.5 1638.5L1294.0 1641.1L1295.5 1638.6L1297.0 1641.0L1298.5 1638.0L1300.0 1637.6L1301.5 1638.2L1303.0 1637.5L1304.5 1637.9L1306.0 1637.7L1307.5 1640.0L1309.0 1639.2L1310.5 1638.1L1312.0 1637.2L1313.5 1644.2L1315.0 1638.1L1316.5 1641.0L1318.0 1636.4L1319.5 1637.1L1321.0 1640.6L1322.5 1636.5L1324.0 1636.5L1325.5 1638.3L1327.0 1637.1L1328.5 1637.8L1330.0 1638.6L1331.5 1639.8L1333.0 1638.5L1334.5 1638.7L1336.0 1640.5L1337.5 1640.6L1339.0 1637.4L1340.5 1634.7L1342.0 1636.1L1343.5 1639.7L1345.0 1636.9L1346.5 1636.4L1348.0 1636.8L1349.5 1640.3L1351.0 1637.5L1352.5 1636.6L1354.0 1635.9L1355.5 1635.0L1357.0 1641.8L1358.5 1636.5L1360.0 1636.6L1361.5 1635.5L1363.0 1637.7L1364.5 1633.7L1366.0 1631.7L1367.5 1633.7L1369.0 1635.0L1370.5 1638.0L1372.0 1633.3L1373.5 1631.4L1375.0 1632.0L1376.5 1630.4L1378.0 1629.6L1379.5 1630.4L1381.0 1629.9L1382.5 1627.2L1384.0 1629.1L1385.5 1625.5L1387.0 1624.1L1388.5 1620.8L1390.0 1619.6L1391.5 1616.1L1393.0 1612.0L1394.5 1603.5L1396.0 1598.8L1397.5 1587.4L1399.0 1577.3L1400.5 1564.9L1402.0 1550.2L1403.5 1528.5L1405.0 1507.0L1406.5 1487.5L1408.0 1467.1L1409.5 1443.0L1411.0 1429.2L1412.5 1407.6L1414.0 1406.4L1415.5 1406.6L1417.0 1415.1L1418.5 1426.6L1420.0 1449.8L1421.5 1471.1L1423.0 1493.4L1424.5 1512.2L1426.0 1532.0L1427.5 1552.5L1429.0 1566.2L1430.5 1578.0L1432.0 1587.9L1433.5 1598.6L1435.0 1602.7L1436.5 1611.6L1438.0 1615.1L1439.5 1615.3L1441.0 1621.5L1442.5 1624.8L1444.0 1624.7L1445.5 1623.2L1447.0 1625.6L1448.5 1629.1L1450.0 1626.1L1451.5 1628.4L1453.0 1631.7L1454.5 1629.7L1456.0 1629.6L1457.5 1632.5L1459.0 1634.3L1460.5 1632.5L1462.0 1630.0L1463.5 1629.9L1465.0 1632.8L1466.5 1630.4L1468.0 1633.9L1469.5 1636.1L1471.0 1630.1L1472.5 1634.8L1474.0 1636.0L1475.5 1634.8L1477.0 1636.8L1478.5 1637.3L1480.0 1638.5L1481.5 1641.8L1483.0 1637.8L1484.5 1635.9L1486.0 1635.9L1487.5 1635.8L1489.0 1639.5L1490.5 1639.1L1492.0 1639.5L1493.5 1639.3L1495.0 1642.0L1496.5 1641.3L1498.0 1641.4L1499.5 1638.6L1501.0 1639.4L1502.5 1637.9L1504.0 1639.3L1505.5 1640.8L1507.0 1638.6L1508.5 1639.9L1510.0 1644.8L1511.5 1641.0L1513.0 1638.7L1514.5 1639.3L1516.0 1641.4L1517.5 1643.1L1519.0 1641.6L1520.5 1643.4L1522.0 1642.5L1523.5 1640.0L1525.0 1643.9L1526.5 1641.3L1528.0 1645.6L1529.5 1641.3L1531.0 1642.1L1532.5 1641.5L1534.0 1642.0L1535.5 1643.4L1537.0 1642.3L1538.5 1644.8L1540.0 1643.6L1541.5 1645.7L1543.0 1643.1L1544.5 1645.3L1546.0 1645.2L1547.5 1642.9L1549.0 1647.7L1550.5 1646.0L1552.0 1644.3L1553.5 1643.1L1555.0 1643.3L1556.5 1643.3L1558.0 1644.1L1559.5 1641.7L1561.0 1643.8L1562.5 1642.7L1564.0 1646.8L1565.5 1645.3L1567.0 1647.0L1568.5 1648.3L1570.0 1645.0L1571.5 1647.8L1573.0 1644.9L1574.5 1645.4L1576.0 1642.7L1577.5 1644.6L1579.0 1647.0L1580.5 1645.4L1582.0 1643.9L1583.5 1644.7L1585.0 1643.4L1586.5 1643.6L1588.0 1642.3L1589.5 1646.8L1591.0 1646.9L1592.5 1644.8L1594.0 1642.7L1595.5 1644.7L1597.0 1648.7L1598.5 1642.8L1600.0 1644.4L1601.5 1644.5L1603.0 1646.8L1604.5 1643.2L1606.0 1645.9L1607.5 1644.0L1609.0 1644.9L1610.5 1643.5L1612.0 1646.6L1613.5 1644.8L1615.0 1644.7L1616.5 1647.7L1618.0 1646.5L1619.5 1650.1L1621.0 1646.7L1622.5 1646.1L1624.0 1646.2L1625.5 1650.7L1627.0 1648.0L1628.5 1645.2L1630.0 1646.2L1631.5 1644.6L1633.0 1646.6L1634.5 1644.5L1636.0 1644.3L1637.5 1646.0L1639.0 1647.5L1640.5 1646.5L1642.0 1646.2L1643.5 1644.9L1645.0 1640.5L1646.5 1644.4L1648.0 1644.2L1649.5 1645.4L1651.0 1647.5L1652.5 1645.6L1654.0 1641.1L1655.5 1644.1L1657.0 1643.6L1658.5 1645.2L1660.0 1643.7L1661.5 1640.3L1663.0 1642.0L1664.5 1642.9L1666.0 1639.8L1667.5 1643.1L1669.0 1642.7L1670.5 1645.0L1672.0 1642.8L1673.5 1641.8L1675.0 1642.5L1676.5 1642.7L1678.0 1644.3L1679.5 1640.7L1681.0 1638.3L1682.5 1647.1L1684.0 1643.4L1685.5 1642.0L1687.0 1646.1L1688.5 1639.7L1690.0 1640.2L1691.5 1640.7L1693.0 1642.2L1694.5 1640.4L1696.0 1642.5L1697.5 1640.3L1699.0 1643.1L1700.5 1641.5L1702.0 1637.7L1703.5 1640.4L1705.0 1638.4L1706.5 1640.0L1708.0 1640.2L1709.5 1644.0L1711.0 1639.5L1712.5 1637.0L1714.0 1639.9L1715.5 1637.5L1717.0 1642.6L1718.5 1640.5L1720.0 1641.9L1721.5 1638.2L1723.0 1636.9L1724.5 1639.1L1726.0 1635.9L1727.5 1636.5L1729.0 1636.6L1730.5 1637.5L1732.0 1634.8L1733.5 1633.5L1735.0 1639.4L1736.5 1635.6L1738.0 1635.9L1739.5 1636.9L1741.0 1636.1L1742.5 1633.6L1744.0 1633.4L1745.5 1636.3L1747.0 1634.8L1748.5 1632.8L1750.0 1633.2L1751.5 1625.3L1753.0 1627.0L1754.5 1624.0L1756.0 1618.3L1757.5 1619.1L1759.0 1615.7L1760.5 1610.4L1762.0 1601.3L1763.5 1597.9L1765.0 1591.5L1766.5 1582.7L1768.0 1574.6L1769.5 1565.1L1771.0 1556.1L1772.5 1542.6L1774.0 1534.9L1775.5 1518.3L1777.0 1506.1L1778.5 1494.8L1780.0 1481.7L1781.5 1470.6L1783.0 1464.2L1784.5 1450.7L1786.0 1446.1L1787.5 1450.2L1789.0 1447.7L1790.5 1449.9L1792.0 1454.5L1793.5 1461.7L1795.0 1468.6L1796.5 1480.2L1798.0 1490.4L1799.5 1506.3L1801.0 1517.7L1802.5 1529.2L1804.0 1541.4L1805.5 1551.8L1807.0 1560.7L1808.5 1575.6L1810.0 1582.7L1811.5 1589.3L1813.0 1597.7L1814.5 1605.2L1816.0 1610.4L1817.5 1614.1L1819.0 1618.3L1820.5 1619.7L1822.0 1625.2L1823.5 1626.7L1825.0 1628.6L1826.5 1626.1L1828.0 1630.8L1829.5 1631.8L1831.0 1632.9L1832.5 1627.5L1834.0 1629.3L1835.5 1633.6L1837.0 1631.8L1838.5 1634.6L1840.0 1634.1L1841.5 1636.2L1843.0 1634.0L1844.5 1633.3L1846.0 1636.4L1847.5 1635.2L1849.0 1633.9L1850.5 1632.6L1852.0 1642.0L1853.5 1635.9L1855.0 1636.3L1856.5 1633.4L1858.0 1635.3L1859.5 1636.9L1861.0 1638.0L1862.5 1638.9L1864.0 1636.3L1865.5 1638.6L1867.0 1640.0L1868.5 1637.1L1870.0 1638.0L1871.5 1635.0L1873.0 1636.9L1874.5 1636.0L1876.0 1639.8L1877.5 1638.4L1879.0 1641.6L1880.5 1639.2L1882.0 1640.4L1883.5 1640.0L1885.0 1639.5L1886.5 1637.3L1888.0 1642.2L1889.5 1639.2L1891.0 1636.2L1892.5 1638.5L1894.0 1637.6L1895.5 1641.8L1897.0 1641.6L1898.5 1642.5L1900.0 1643.8L1901.5 1638.8L1903.0 1636.6L1904.5 1638.4L1906.0 1640.8L1907.5 1635.3L1909.0 1639.2L1910.5 1641.8L1912.0 1638.8L1913.5 1640.2L1915.0 1638.8L1916.5 1643.6L1918.0 1644.0L1919.5 1638.8L1921.0 1639.1L1922.5 1640.9L1924.0 1642.0L1925.5 1641.6L1927.0 1642.0L1928.5 1642.6L1930.0 1642.9L1931.5 1644.0L1933.0 1640.8L1934.5 1639.5L1936.0 1640.1L1937.5 1644.1L1939.0 1641.5L1940.5 1641.1L1942.0 1642.1L1943.5 1641.7L1945.0 1643.6L1946.5 1637.8L1948.0 1639.4L1949.5 1640.2L1951.0 1640.2L1952.5 1637.9L1954.0 1635.5L1955.5 1637.7L1957.0 1636.8L1958.5 1637.7L1960.0 1639.6L1961.5 1638.7L1963.0 1635.2L1964.5 1635.8L1966.0 1637.3L1967.5 1638.8L1969.0 1636.4L1970.5 1636.7L1972.0 1633.4L1973.5 1635.0L1975.0 1634.2L1976.5 1635.8L1978.0 1634.7L1979.5 1633.4L1981.0 1632.7L1982.5 1634.8L1984.0 1633.0L1985.5 1635.9L1987.0 1633.9L1988.5 1632.9L1990.0 1634.7L1991.5 1630.6L1993.0 1634.1L1994.5 1630.8L1996.0 1633.1L1997.5 1630.2L1999.0 1629.3L2000.5 1627.3L2002.0 1630.3L2003.5 1630.6L2005.0 1626.8L2006.5 1632.0L2008.0 1628.3L2009.5 1625.8L2011.0 1630.7L2012.5 1625.9L2014.0 1628.5L2015.5 1620.2L2017.0 1628.3L2018.5 1623.9L2020.0 1622.6L2021.5 1622.2L2023.0 1618.4L2024.5 1621.0L2026.0 1618.8L2027.5 1617.0L2029.0 1613.5L2030.5 1610.2L2032.0 1610.2L2033.5 1607.7L2035.0 1602.4L2036.5 1596.9L2038.0 1590.5L2039.5 1585.6L2041.0 1578.6L2042.5 1565.9L2044.0 1553.4L2045.5 1546.5L2047.0 1525.2L2048.5 1512.8L2050.0 1495.7L2051.5 1481.1L2053.0 1461.6L2054.5 1443.1L2056.0 1430.6L2057.5 1423.0L2059.0 1417.6L2060.5 1416.7L2062.0 1422.5L2063.5 1431.0L2065.0 1444.9L2066.5 1462.4L2068.0 1479.4L2069.5 1497.5L2071.0 1512.3L2072.5 1532.7L2074.0 1541.1L2075.5 1558.6L2077.0 1569.3L2078.5 1580.9L2080.0 1589.0L2081.5 1591.3L2083.0 1600.2L2084.5 1605.9L2086.0 1610.3L2087.5 1613.0L2089.0 1613.9L2090.5 1619.5L2092.0 1619.0L2093.5 1620.0L2095.0 1622.6L2096.5 1622.7L2098.0 1623.4L2099.5 1625.8L2101.0 1631.1L2102.5 1627.8L2104.0 1628.0L2105.5 1627.7L2107.0 1629.7L2108.5 1627.6L2110.0 1631.0L2111.5 1631.1L2113.0 1631.2L2114.5 1632.2L2116.0 1631.0L2117.5 1632.5L2119.0 1632.3L2120.5 1632.3L2122.0 1631.2L2123.5 1632.7L2125.0 1630.7L2126.5 1633.2L2128.0 1630.6L2129.5 1632.9L2131.0 1631.0L2132.5 1630.3L2134.0 1628.4L2135.5 1631.1L2137.0 1630.5L2138.5 1629.7L2140.0 1630.1L2141.5 1629.4L2143.0 1627.4L2144.5 1626.7L2146.0 1629.7L2147.5 1628.6L2149.0 1630.7L2150.5 1631.4L2152.0 1629.0L2153.5 1628.4L2155.0 1628.0L2156.5 1627.0L2158.0 1625.4L2159.5 1621.6L2161.0 1627.3L2162.5 1626.7L2164.0 1625.4L2165.5 1625.3L2167.0 1626.4L2168.5 1626.0L2170.0 1624.4L2171.5 1623.3L2173.0 1624.4L2174.5 1624.3L2176.0 1626.3L2177.5 1620.7L2179.0 1623.0L2180.5 1620.3L2182.0 1620.7L2183.5 1625.2L2185.0 1619.8L2186.5 1619.6L2188.0 1618.0L2189.5 1619.7L2191.0 1616.5L2192.5 1613.4L2194.0 1615.6L2195.5 1615.8L2197.0 1613.5L2198.5 1613.1L2200.0 1611.2L2201.5 1610.5L2203.0 1612.2L2204.5 1610.4L2206.0 1612.2L2207.5 1611.9L2209.0 1614.0L2210.5 1616.7L2212.0 1616.2L2213.5 1619.1L2215.0 1618.6L2216.5 1618.5L2218.0 1617.7L2219.5 1620.0L2221.0 1618.1L2222.5 1621.7L2224.0 1618.1L2225.5 1618.0L2227.0 1618.8L2228.5 1617.2L2230.0 1619.9L2231.5 1617.9L2233.0 1617.8L2234.5 1618.8L2236.0 1612.8L2237.5 1615.0L2239.0 1614.4L2240.5 1613.6L2242.0 1609.5L2243.5 1605.1L2245.0 1604.2L2246.5 1599.7L2248.0 1596.6L2249.5 1590.2L2251.0 1578.7L2252.5 1573.0L2254.0 1561.3L2255.5 1548.5L2257.0 1539.9L2258.5 1528.4L2260.0 1508.8L2261.5 1501.8L2263.0 1484.6L2264.5 1476.1L2266.0 1462.0L2267.5 1452.1L2269.0 1446.9L2270.5 1439.5L2272.0 1442.8L2273.5 1439.8L2275.0 1445.9L2276.5 1453.1L2278.0 1465.9L2279.5 1476.1L2281.0 1489.5L2282.5 1501.9L2284.0 1512.9L2285.5 1524.0L2287.0 1533.7L2288.5 1539.9L2290.0 1545.6L2291.5 1550.6L2293.0 1557.5L2294.5 1557.7L2296.0 1558.0L2297.5 1557.9L2299.0 1557.5L2300.5 1555.9L2302.0 1551.7L2303.5 1546.4L2305.0 1544.6L2306.5 1535.0L2308.0 1533.5L2309.5 1531.1L2311.0 1525.3L2312.5 1523.1L2314.0 1518.1L2315.5 1516.9L2317.0 1515.0L2318.5 1514.4L2320.0 1517.4L2321.5 1521.1L2323.0 1519.8L2324.5 1526.5L2326.0 1529.7L2327.5 1537.7L2329.0 1543.5L2330.5 1551.4L2332.0 1558.4L2333.5 1567.1L2335.0 1574.0L2336.5 1576.5L2338.0 1582.9L2339.5 1590.3L2341.0 1593.2L2342.5 1598.3L2344.0 1600.0L2345.5 1608.3L2347.0 1610.9L2348.5 1611.9L2350.0 1613.9L2351.5 1616.8L2353.0 1621.4L2354.5 1621.6L2356.0 1621.9L2357.5 1624.8L2359.0 1628.1L2360.5 1629.8L2362.0 1630.8L2363.5 1629.5L2365.0 1630.5L2366.5 1631.1L2368.0 1632.3L2369.5 1632.7L2371.0 1630.4L2372.5 1631.3L2374.0 1632.2L2375.5 1634.4L2377.0 1632.5L2378.5 1632.3" stroke="#0068dc" stroke-width="12"/>
<path d="M200.5 1753.4L202.0 1744.5L203.5 1749.2L205.0 1748.6L206.5 1748.1L208.0 1748.4L209.5 1748.6L211.0 1742.0L212.5 1746.7L214.0 1754.1L215.5 1745.5L217.0 1745.7L218.5 1758.8L220.0 1755.4L221.5 1757.2L223.0 1751.2L224.5 1752.6L226.0 1754.9L227.5 1754.5L229.0 1752.2L230.5 1747.0L232.0 1750.3L233.5 1747.5L235.0 1760.1L236.5 1752.6L238.0 1753.8L239.5 1755.9L241.0 1755.2L242.5 1757.4L244.0 1753.0L245.5 1749.6L247.0 1762.7L248.5 1753.2L250.0 1754.3L251.5 1753.2L253.0 1754.3L254.5 1756.7L256.0 1759.7L257.5 1752.9L259.0 1758.3L260.5 1754.7L262.0 1762.1L263.5 1752.9L265.0 1758.2L266.5 1760.7L268.0 1752.9L269.5 1758.7L271.0 1759.0L272.5 1755.6L274.0 1758.0L275.5 1762.8L277.0 1760.1L278.5 1757.7L280.0 1758.7L281.5 1761.3L283.0 1764.6L284.5 1763.0L286.0 1762.9L287.5 1766.2L289.0 1754.7L290.5 1755.3L292.0 1752.3L293.5 1764.1L295.0 1752.6L296.5 1761.2L298.0 1764.3L299.5 1756.5L301.0 1759.4L302.5 1761.0L304.0 1764.8L305.5 1756.7L307.0 1763.6L308.5 1765.1L310.0 1763.2L311.5 1763.4L313.0 1767.6L314.5 1764.0L316.0 1763.2L317.5 1762.2L319.0 1766.0L320.5 1762.7L322.0 1766.2L323.5 1764.4L325.0 1768.3L326.5 1761.4L328.0 1764.7L329.5 1765.9L331.0 1766.2L332.5 1769.0L334.0 1766.5L335.5 1768.4L337.0 1772.3L338.5 1768.5L340.0 1761.9L341.5 1760.7L343.0 1768.3L344.5 1764.7L346.0 1767.2L347.5 1765.7L349.0 1771.1L350.5 1770.9L352.0 1762.8L353.5 1767.9L355.0 1766.0L356.5 1762.6L358.0 1769.7L359.5 1767.0L361.0 1769.2L362.5 1776.5L364.0 1772.6L365.5 1772.0L367.0 1767.0L368.5 1764.5L370.0 1773.1L371.5 1767.9L373.0 1769.3L374.5 1768.1L376.0 1769.9L377.5 1778.0L379.0 1768.9L380.5 1769.2L382.0 1771.0L383.5 1771.5L385.0 1766.6L386.5 1764.9L388.0 1769.1L389.5 1770.6L391.0 1768.8L392.5 1768.3L394.0 1768.7L395.5 1770.7L397.0 1771.9L398.5 1767.0L400.0 1770.8L401.5 1774.0L403.0 1772.6L404.5 1768.7L406.0 1772.2L407.5 1773.5L409.0 1776.3L410.5 1768.6L412.0 1776.4L413.5 1772.8L415.0 1775.2L416.5 1777.0L418.0 1772.1L419.5 1772.5L421.0 1775.0L422.5 1777.9L424.0 1773.9L425.5 1771.2L427.0 1773.6L428.5 1777.2L430.0 1779.8L431.5 1774.4L433.0 1775.1L434.5 1775.6L436.0 1775.8L437.5 1773.3L439.0 1775.0L440.5 1777.2L442.0 1776.9L443.5 1776.7L445.0 1773.5L446.5 1775.0L448.0 1774.6L449.5 1780.3L451.0 1781.6L452.5 1778.2L454.0 1782.2L455.5 1776.3L457.0 1776.4L458.5 1773.3L460.0 1778.2L461.5 1776.1L463.0 1777.9L464.5 1779.2L466.0 1777.0L467.5 1774.3L469.0 1777.7L470.5 1777.7L472.0 1778.1L473.5 1780.2L475.0 1777.5L476.5 1777.4L478.0 1783.7L479.5 1781.7L481.0 1778.2L482.5 1775.7L484.0 1777.3L485.5 1779.9L487.0 1781.3L488.5 1786.2L490.0 1778.1L491.5 1779.4L493.0 1777.9L494.5 1779.3L496.0 1777.9L497.5 1775.9L499.0 1782.3L500.5 1779.6L502.0 1783.2L503.5 1777.8L505.0 1780.2L506.5 1781.4L508.0 1773.8L509.5 1775.6L511.0 1781.8L512.5 1779.9L514.0 1774.2L515.5 1777.5L517.0 1776.7L518.5 1778.4L520.0 1784.5L521.5 1778.3L523.0 1786.0L524.5 1779.3L526.0 1777.9L527.5 1784.8L529.0 1783.0L530.5 1784.3L532.0 1786.0L533.5 1783.5L535.0 1784.0L536.5 1775.4L538.0 1778.1L539.5 1781.9L541.0 1781.2L542.5 1782.8L544.0 1779.4L545.5 1784.0L547.0 1786.7L548.5 1782.7L550.0 1783.5L551.5 1782.7L553.0 1784.0L554.5 1782.0L556.0 1780.1L557.5 1782.2L559.0 1782.0L560.5 1777.4L562.0 1782.6L563.5 1782.1L565.0 1782.7L566.5 1780.6L568.0 1783.6L569.5 1784.1L571.0 1780.5L572.5 1783.5L574.0 1784.8L575.5 1784.8L577.0 1780.2L578.5 1780.0L580.0 1783.1L581.5 1780.2L583.0 1790.2L584.5 1781.0L586.0 1781.1L587.5 1785.2L589.0 1782.2L590.5 1777.1L592.0 1783.3L593.5 1781.0L595.0 1782.4L596.5 1779.5L598.0 1781.5L599.5 1783.6L601.0 1783.9L602.5 1781.2L604.0 1782.3L605.5 1782.1L607.0 1784.8L608.5 1784.1L610.0 1781.2L611.5 1786.4L613.0 1782.8L614.5 1785.8L616.0 1782.3L617.5 1785.7L619.0 1784.6L620.5 1785.1L622.0 1786.4L623.5 1786.3L625.0 1785.6L626.5 1785.7L628.0 1781.9L629.5 1785.2L631.0 1779.6L632.5 1779.6L634.0 1784.7L635.5 1785.0L637.0 1789.6L638.5 1787.5L640.0 1788.7L641.5 1785.1L643.0 1787.1L644.5 1789.1L646.0 1787.5L647.5 1787.1L649.0 1786.5L650.5 1783.9L652.0 1784.0L653.5 1782.7L655.0 1787.5L656.5 1785.8L658.0 1784.8L659.5 1787.6L661.0 1785.2L662.5 1789.5L664.0 1791.7L665.5 1788.0L667.0 1785.2L668.5 1783.2L670.0 1792.3L671.5 1788.4L673.0 1784.4L674.5 1790.2L676.0 1783.3L677.5 1786.6L679.0 1787.2L680.5 1787.0L682.0 1785.1L683.5 1794.1L685.0 1787.1L686.5 1789.2L688.0 1788.4L689.5 1784.4L691.0 1787.1L692.5 1789.1L694.0 1791.0L695.5 1787.9L697.0 1789.7L698.5 1788.0L700.0 1790.4L701.5 1782.9L703.0 1790.5L704.5 1787.6L706.0 1787.7L707.5 1782.2L709.0 1786.6L710.5 1790.7L712.0 1794.9L713.5 1787.5L715.0 1787.6L716.5 1790.4L718.0 1789.9L719.5 1787.7L721.0 1788.7L722.5 1788.1L724.0 1790.4L725.5 1790.7L727.0 1792.8L728.5 1790.5L730.0 1789.5L731.5 1787.7L733.0 1788.7L734.5 1782.9L736.0 1788.7L737.5 1781.7L739.0 1780.8L740.5 1770.6L742.0 1768.2L743.5 1757.8L745.0 1745.0L746.5 1729.4L748.0 1711.4L749.5 1697.0L751.0 1671.8L752.5 1642.9L754.0 1615.2L755.5 1584.5L757.0 1554.4L758.5 1529.7L760.0 1512.1L761.5 1498.9L763.0 1489.7L764.5 1495.7L766.0 1504.4L767.5 1520.1L769.0 1537.7L770.5 1567.2L772.0 1595.7L773.5 1621.3L775.0 1646.6L776.5 1681.7L778.0 1701.5L779.5 1718.9L781.0 1739.9L782.5 1752.2L784.0 1761.2L785.5 1768.8L787.0 1776.2L788.5 1782.2L790.0 1782.3L791.5 1783.9L793.0 1787.4L794.5 1780.8L796.0 1788.2L797.5 1787.7L799.0 1789.0L800.5 1788.9L802.0 1790.2L803.5 1789.8L805.0 1789.7L806.5 1789.2L808.0 1790.5L809.5 1788.3L811.0 1791.6L812.5 1785.5L814.0 1789.6L815.5 1790.1L817.0 1786.1L818.5 1787.8L820.0 1791.6L821.5 1788.2L823.0 1786.3L824.5 1781.5L826.0 1788.6L827.5 1787.9L829.0 1788.7L830.5 1791.6L832.0 1786.9L833.5 1786.9L835.0 1784.8L836.5 1785.8L838.0 1785.5L839.5 1786.8L841.0 1786.0L842.5 1782.7L844.0 1782.9L845.5 1786.4L847.0 1780.8L848.5 1783.8L850.0 1785.0L851.5 1782.1L853.0 1780.4L854.5 1781.7L856.0 1778.2L857.5 1775.8L859.0 1773.3L860.5 1773.2L862.0 1768.0L863.5 1763.7L865.0 1750.9L866.5 1738.7L868.0 1721.9L869.5 1702.0L871.0 1673.7L872.5 1647.1L874.0 1613.9L875.5 1580.7L877.0 1552.4L878.5 1542.2L880.0 1551.2L881.5 1564.5L883.0 1591.2L884.5 1620.9L886.0 1653.6L887.5 1677.2L889.0 1701.1L890.5 1721.0L892.0 1738.9L893.5 1750.6L895.0 1757.2L896.5 1760.7L898.0 1761.3L899.5 1767.4L901.0 1766.4L902.5 1767.5L904.0 1767.7L905.5 1767.0L907.0 1766.5L908.5 1766.6L910.0 1764.9L911.5 1767.4L913.0 1765.8L914.5 1767.3L916.0 1760.4L917.5 1764.8L919.0 1760.3L920.5 1757.4L922.0 1752.5L923.5 1747.4L925.0 1738.8L926.5 1733.1L928.0 1716.0L929.5 1696.9L931.0 1668.5L932.5 1627.6L934.0 1578.9L935.5 1517.8L937.0 1448.2L938.5 1364.7L940.0 1277.3L941.5 1190.7L943.0 1108.9L944.5 1049.3L946.0 1005.7L947.5 1004.4L949.0 1032.5L950.5 1083.9L952.0 1163.8L953.5 1249.1L955.0 1338.8L956.5 1419.3L958.0 1498.0L959.5 1560.8L961.0 1615.4L962.5 1660.9L964.0 1690.0L965.5 1709.6L967.0 1728.3L968.5 1740.9L970.0 1753.5L971.5 1756.4L973.0 1759.3L974.5 1767.7L976.0 1768.7L977.5 1771.1L979.0 1770.8L980.5 1776.5L982.0 1775.1L983.5 1772.9L985.0 1775.6L986.5 1777.2L988.0 1779.3L989.5 1781.9L991.0 1779.9L992.5 1780.9L994.0 1786.6L995.5 1783.4L997.0 1782.9L998.5 1784.4L1000.0 1782.6L1001.5 1786.3L1003.0 1787.6L1004.5 1785.2L1006.0 1788.4L1007.5 1786.5L1009.0 1787.9L1010.5 1786.4L1012.0 1786.6L1013.5 1785.7L1015.0 1789.1L1016.5 1788.5L1018.0 1788.8L1019.5 1787.5L1021.0 1787.7L1022.5 1788.9L1024.0 1791.2L1025.5 1791.1L1027.0 1789.6L1028.5 1791.6L1030.0 1794.4L1031.5 1791.7L1033.0 1795.3L1034.5 1792.7L1036.0 1794.5L1037.5 1791.3L1039.0 1794.5L1040.5 1790.4L1042.0 1793.0L1043.5 1792.1L1045.0 1789.2L1046.5 1790.4L1048.0 1795.0L1049.5 1794.0L1051.0 1795.5L1052.5 1793.6L1054.0 1788.1L1055.5 1793.9L1057.0 1792.5L1058.5 1792.7L1060.0 1792.8L1061.5 1792.4L1063.0 1792.1L1064.5 1796.1L1066.0 1794.7L1067.5 1792.8L1069.0 1793.3L1070.5 1795.9L1072.0 1794.9L1073.5 1794.6L1075.0 1792.1L1076.5 1793.6L1078.0 1792.4L1079.5 1791.1L1081.0 1796.2L1082.5 1794.1L1084.0 1794.0L1085.5 1793.0L1087.0 1796.2L1088.5 1798.6L1090.0 1796.0L1091.5 1796.6L1093.0 1792.8L1094.5 1795.4L1096.0 1795.5L1097.5 1797.9L1099.0 1795.3L1100.5 1793.6L1102.0 1795.2L1103.5 1794.6L1105.0 1798.0L1106.5 1796.7L1108.0 1796.1L1109.5 1795.9L1111.0 1797.1L1112.5 1794.8L1114.0 1794.1L1115.5 1792.4L1117.0 1797.9L1118.5 1796.8L1120.0 1797.0L1121.5 1796.0L1123.0 1799.0L1124.5 1794.3L1126.0 1798.2L1127.5 1794.6L1129.0 1795.3L1130.5 1794.0L1132.0 1796.4L1133.5 1795.8L1135.0 1797.1L1136.5 1795.3L1138.0 1793.9L1139.5 1797.5L1141.0 1798.8L1142.5 1797.8L1144.0 1796.5L1145.5 1797.3L1147.0 1793.6L1148.5 1796.1L1150.0 1798.8L1151.5 1797.6L1153.0 1795.3L1154.5 1798.4L1156.0 1796.6L1157.5 1798.2L1159.0 1794.4L1160.5 1796.1L1162.0 1797.6L1163.5 1797.6L1165.0 1798.1L1166.5 1797.1L1168.0 1796.8L1169.5 1798.1L1171.0 1798.8L1172.5 1794.5L1174.0 1796.7L1175.5 1796.9L1177.0 1797.5L1178.5 1799.0L1180.0 1794.9L1181.5 1798.2L1183.0 1794.2L1184.5 1795.9L1186.0 1796.3L1187.5 1796.8L1189.0 1796.2L1190.5 1796.3L1192.0 1796.6L1193.5 1796.8L1195.0 1794.0L1196.5 1794.8L1198.0 1796.5L1199.5 1798.2L1201.0 1799.0L1202.5 1802.3L1204.0 1797.5L1205.5 1795.9L1207.0 1797.6L1208.5 1798.5L1210.0 1797.5L1211.5 1795.4L1213.0 1797.1L1214.5 1797.2L1216.0 1794.8L1217.5 1795.1L1219.0 1799.4L1220.5 1793.3L1222.0 1797.6L1223.5 1796.8L1225.0 1799.7L1226.5 1798.3L1228.0 1795.7L1229.5 1799.5L1231.0 1796.2L1232.5 1800.8L1234.0 1800.2L1235.5 1797.1L1237.0 1798.6L1238.5 1797.6L1240.0 1795.6L1241.5 1799.1L1243.0 1798.0L1244.5 1798.7L1246.0 1799.1L1247.5 1799.7L1249.0 1799.0L1250.5 1797.1L1252.0 1797.4L1253.5 1797.9L1255.0 1797.0L1256.5 1796.8L1258.0 1800.5L1259.5 1798.0L1261.0 1800.5L1262.5 1795.8L1264.0 1797.1L1265.5 1796.4L1267.0 1796.5L1268.5 1796.6L1270.0 1796.9L1271.5 1796.4L1273.0 1800.3L1274.5 1798.3L1276.0 1795.8L1277.5 1796.1L1279.0 1798.4L1280.5 1798.0L1282.0 1796.0L1283.5 1798.7L1285.0 1794.5L1286.5 1796.2L1288.0 1800.0L1289.5 1792.4L1291.0 1796.6L1292.5 1798.7L1294.0 1796.7L1295.5 1795.6L1297.0 1795.3L1298.5 1793.2L1300.0 1794.5L1301.5 1797.0L1303.0 1795.8L1304.5 1796.8L1306.0 1796.5L1307.5 1797.3L1309.0 1793.8L1310.5 1796.2L1312.0 1796.1L1313.5 1796.1L1315.0 1795.1L1316.5 1792.7L1318.0 1797.7L1319.5 1798.0L1321.0 1800.7L1322.5 1797.7L1324.0 1799.3L1325.5 1797.4L1327.0 1795.7L1328.5 1797.2L1330.0 1794.2L1331.5 1796.6L1333.0 1796.0L1334.5 1794.2L1336.0 1798.2L1337.5 1797.9L1339.0 1796.7L1340.5 1797.3L1342.0 1798.7L1343.5 1795.5L1345.0 1793.2L1346.5 1793.9L1348.0 1796.7L1349.5 1795.7L1351.0 1792.6L1352.5 1797.4L1354.0 1795.4L1355.5 1797.7L1357.0 1796.7L1358.5 1793.8L1360.0 1794.6L1361.5 1793.0L1363.0 1792.6L1364.5 1793.3L1366.0 1794.5L1367.5 1795.8L1369.0 1791.6L1370.5 1794.1L1372.0 1792.6L1373.5 1791.8L1375.0 1793.8L1376.5 1790.8L1378.0 1793.4L1379.5 1789.8L1381.0 1788.2L1382.5 1790.5L1384.0 1785.8L1385.5 1785.4L1387.0 1786.1L1388.5 1785.2L1390.0 1783.1L1391.5 1778.0L1393.0 1776.6L1394.5 1776.5L1396.0 1772.4L1397.5 1764.2L1399.0 1759.7L1400.5 1751.1L1402.0 1742.2L1403.5 1726.7L1405.0 1716.2L1406.5 1696.9L1408.0 1682.1L1409.5 1662.5L1411.0 1640.3L1412.5 1624.1L1414.0 1610.7L1415.5 1602.3L1417.0 1594.6L1418.5 1599.6L1420.0 1611.2L1421.5 1625.5L1423.0 1640.2L1424.5 1659.3L1426.0 1680.4L1427.5 1695.6L1429.0 1714.1L1430.5 1729.6L1432.0 1740.4L1433.5 1746.0L1435.0 1761.2L1436.5 1768.0L1438.0 1773.9L1439.5 1777.2L1441.0 1776.0L1442.5 1784.0L1444.0 1784.1L1445.5 1786.8L1447.0 1786.2L1448.5 1787.1L1450.0 1788.0L1451.5 1792.0L1453.0 1790.3L1454.5 1790.1L1456.0 1788.7L1457.5 1792.2L1459.0 1791.9L1460.5 1792.5L1462.0 1794.3L1463.5 1794.1L1465.0 1793.2L1466.5 1793.8L1468.0 1793.8L1469.5 1795.1L1471.0 1795.3L1472.5 1794.5L1474.0 1792.9L1475.5 1796.1L1477.0 1796.3L1478.5 1793.0L1480.0 1795.7L1481.5 1794.4L1483.0 1791.4L1484.5 1795.3L1486.0 1797.1L1487.5 1794.2L1489.0 1794.4L1490.5 1797.5L1492.0 1793.8L1493.5 1794.2L1495.0 1795.3L1496.5 1797.1L1498.0 1797.1L1499.5 1795.2L1501.0 1795.6L1502.5 1796.3L1504.0 1795.5L1505.5 1794.8L1507.0 1794.4L1508.5 1797.6L1510.0 1796.0L1511.5 1801.5L1513.0 1797.6L1514.5 1795.2L1516.0 1796.6L1517.5 1797.2L1519.0 1797.4L1520.5 1797.5L1522.0 1797.6L1523.5 1796.6L1525.0 1798.0L1526.5 1800.7L1528.0 1796.2L1529.5 1796.3L1531.0 1798.2L1532.5 1799.2L1534.0 1798.5L1535.5 1799.2L1537.0 1797.0L1538.5 1796.8L1540.0 1798.3L1541.5 1798.4L1543.0 1800.2L1544.5 1800.0L1546.0 1794.1L1547.5 1798.7L1549.0 1796.2L1550.5 1793.7L1552.0 1798.1L1553.5 1797.1L1555.0 1796.8L1556.5 1795.2L1558.0 1795.7L1559.5 1797.1L1561.0 1794.9L1562.5 1797.4L1564.0 1797.8L1565.5 1797.3L1567.0 1798.2L1568.5 1797.5L1570.0 1795.6L1571.5 1795.9L1573.0 1797.9L1574.5 1799.4L1576.0 1798.0L1577.5 1796.9L1579.0 1798.1L1580.5 1794.6L1582.0 1796.1L1583.5 1797.2L1585.0 1797.7L1586.5 1797.3L1588.0 1797.4L1589.5 1795.8L1591.0 1796.9L1592.5 1798.3L1594.0 1794.7L1595.5 1795.8L1597.0 1797.3L1598.5 1800.6L1600.0 1799.2L1601.5 1800.7L1603.0 1800.4L1604.5 1797.2L1606.0 1797.9L1607.5 1796.0L1609.0 1800.1L1610.5 1799.3L1612.0 1799.1L1613.5 1799.3L1615.0 1798.9L1616.5 1798.5L1618.0 1798.6L1619.5 1800.3L1621.0 1796.8L1622.5 1796.3L1624.0 1798.2L1625.5 1800.2L1627.0 1798.6L1628.5 1797.8L1630.0 1799.7L1631.5 1798.4L1633.0 1794.9L1634.5 1796.5L1636.0 1794.6L1637.5 1797.8L1639.0 1797.4L1640.5 1799.0L1642.0 1801.9L1643.5 1797.2L1645.0 1798.3L1646.5 1797.6L1648.0 1793.3L1649.5 1796.9L1651.0 1797.0L1652.5 1798.7L1654.0 1796.8L1655.5 1796.0L1657.0 1799.3L1658.5 1798.1L1660.0 1796.7L1661.5 1796.9L1663.0 1797.7L1664.5 1799.6L1666.0 1800.7L1667.5 1795.9L1669.0 1800.2L1670.5 1798.3L1672.0 1798.8L1673.5 1799.9L1675.0 1796.5L1676.5 1799.6L1678.0 1795.8L1679.5 1797.3L1681.0 1796.6L1682.5 1801.0L1684.0 1800.9L1685.5 1799.3L1687.0 1798.9L1688.5 1797.0L1690.0 1801.0L1691.5 1800.3L1693.0 1799.4L1694.5 1797.6L1696.0 1797.2L1697.5 1797.6L1699.0 1800.0L1700.5 1796.0L1702.0 1797.8L1703.5 1800.4L1705.0 1799.0L1706.5 1800.4L1708.0 1798.0L1709.5 1798.0L1711.0 1799.5L1712.5 1798.2L1714.0 1797.5L1715.5 1795.9L1717.0 1794.1L1718.5 1799.2L1720.0 1795.7L1721.5 1795.0L1723.0 1797.7L1724.5 1794.5L1726.0 1793.5L1727.5 1794.7L1729.0 1795.4L1730.5 1795.8L1732.0 1795.9L1733.5 1796.5L1735.0 1794.4L1736.5 1794.9L1738.0 1793.8L1739.5 1792.5L1741.0 1793.9L1742.5 1793.4L1744.0 1795.5L1745.5 1792.8L1747.0 1789.9L1748.5 1791.4L1750.0 1789.1L1751.5 1791.2L1753.0 1784.2L1754.5 1784.5L1756.0 1782.6L1757.5 1781.7L1759.0 1778.5L1760.5 1772.7L1762.0 1768.3L1763.5 1767.2L1765.0 1764.0L1766.5 1757.7L1768.0 1747.3L1769.5 1740.7L1771.0 1729.4L1772.5 1718.6L1774.0 1712.5L1775.5 1700.3L1777.0 1686.8L1778.5 1674.8L1780.0 1665.3L1781.5 1653.0L1783.0 1641.6L1784.5 1634.0L1786.0 1626.8L1787.5 1621.8L1789.0 1619.9L1790.5 1624.1L1792.0 1626.0L1793.5 1631.4L1795.0 1645.3L1796.5 1654.6L1798.0 1664.5L1799.5 1675.3L1801.0 1687.7L1802.5 1696.6L1804.0 1710.3L1805.5 1721.5L1807.0 1730.5L1808.5 1740.6L1810.0 1746.6L1811.5 1755.4L1813.0 1758.7L1814.5 1766.7L1816.0 1770.4L1817.5 1773.0L1819.0 1777.9L1820.5 1781.4L1822.0 1782.6L1823.5 1787.1L1825.0 1785.8L1826.5 1789.9L1828.0 1790.6L1829.5 1789.2L1831.0 1793.4L1832.5 1789.3L1834.0 1793.1L1835.5 1792.8L1837.0 1794.4L1838.5 1790.8L1840.0 1791.7L1841.5 1792.7L1843.0 1794.4L1844.5 1794.8L1846.0 1794.9L1847.5 1794.6L1849.0 1794.0L1850.5 1793.1L1852.0 1794.9L1853.5 1796.7L1855.0 1797.6L1856.5 1795.2L1858.0 1798.0L1859.5 1794.0L1861.0 1797.7L1862.5 1794.7L1864.0 1797.0L1865.5 1795.1L1867.0 1795.2L1868.5 1796.0L1870.0 1799.4L1871.5 1795.9L1873.0 1798.2L1874.5 1797.4L1876.0 1797.8L1877.5 1797.8L1879.0 1798.4L1880.5 1795.4L1882.0 1797.5L1883.5 1798.1L1885.0 1796.6L1886.5 1798.2L1888.0 1795.8L1889.5 1798.7L1891.0 1796.2L1892.5 1796.9L1894.0 1798.7L1895.5 1799.1L1897.0 1796.2L1898.5 1796.1L1900.0 1798.8L1901.5 1792.1L1903.0 1799.2L1904.5 1799.1L1906.0 1795.0L1907.5 1798.8L1909.0 1797.3L1910.5 1797.4L1912.0 1792.6L1913.5 1795.6L1915.0 1796.1L1916.5 1795.6L1918.0 1795.6L1919.5 1795.7L1921.0 1791.2L1922.5 1795.6L1924.0 1794.7L1925.5 1795.7L1927.0 1794.9L1928.5 1795.6L1930.0 1796.0L1931.5 1798.5L1933.0 1794.0L1934.5 1798.1L1936.0 1794.8L1937.5 1793.6L1939.0 1792.5L1940.5 1796.3L1942.0 1792.2L1943.5 1796.2L1945.0 1795.2L1946.5 1793.5L1948.0 1793.2L1949.5 1795.1L1951.0 1794.4L1952.5 1795.3L1954.0 1793.9L1955.5 1792.9L1957.0 1794.6L1958.5 1791.5L1960.0 1794.9L1961.5 1793.4L1963.0 1791.3L1964.5 1791.3L1966.0 1792.4L1967.5 1789.7L1969.0 1795.0L1970.5 1794.1L1972.0 1790.5L1973.5 1792.0L1975.0 1794.9L1976.5 1792.6L1978.0 1790.0L1979.5 1787.9L1981.0 1788.6L1982.5 1793.2L1984.0 1791.5L1985.5 1788.6L1987.0 1791.8L1988.5 1789.8L1990.0 1789.0L1991.5 1789.1L1993.0 1788.9L1994.5 1792.3L1996.0 1787.6L1997.5 1788.3L1999.0 1791.0L2000.5 1790.9L2002.0 1786.4L2003.5 1791.3L2005.0 1789.3L2006.5 1784.5L2008.0 1789.7L2009.5 1783.7L2011.0 1786.9L2012.5 1783.3L2014.0 1781.7L2015.5 1785.6L2017.0 1784.3L2018.5 1782.8L2020.0 1782.5L2021.5 1781.2L2023.0 1780.0L2024.5 1777.5L2026.0 1779.2L2027.5 1776.8L2029.0 1774.7L2030.5 1772.2L2032.0 1770.4L2033.5 1765.6L2035.0 1764.4L2036.5 1759.2L2038.0 1758.3L2039.5 1748.8L2041.0 1742.8L2042.5 1735.7L2044.0 1727.8L2045.5 1716.8L2047.0 1704.4L2048.5 1695.2L2050.0 1677.8L2051.5 1664.2L2053.0 1654.0L2054.5 1634.4L2056.0 1625.8L2057.5 1616.0L2059.0 1607.8L2060.5 1608.2L2062.0 1614.4L2063.5 1618.3L2065.0 1631.4L2066.5 1646.3L2068.0 1658.4L2069.5 1673.5L2071.0 1685.9L2072.5 1699.1L2074.0 1711.1L2075.5 1722.4L2077.0 1733.7L2078.5 1741.1L2080.0 1751.5L2081.5 1755.2L2083.0 1759.8L2084.5 1767.4L2086.0 1766.9L2087.5 1768.6L2089.0 1772.6L2090.5 1772.4L2092.0 1776.8L2093.5 1779.6L2095.0 1779.5L2096.5 1778.6L2098.0 1779.9L2099.5 1781.6L2101.0 1783.4L2102.5 1781.3L2104.0 1781.7L2105.5 1784.7L2107.0 1783.6L2108.5 1784.1L2110.0 1784.7L2111.5 1782.8L2113.0 1784.1L2114.5 1786.4L2116.0 1784.5L2117.5 1784.6L2119.0 1785.6L2120.5 1785.9L2122.0 1789.6L2123.5 1784.0L2125.0 1785.7L2126.5 1789.0L2128.0 1785.7L2129.5 1786.4L2131.0 1783.3L2132.5 1787.5L2134.0 1787.3L2135.5 1787.3L2137.0 1785.6L2138.5 1786.5L2140.0 1785.8L2141.5 1787.3L2143.0 1785.8L2144.5 1787.2L2146.0 1783.6L2147.5 1785.2L2149.0 1780.9L2150.5 1785.5L2152.0 1787.0L2153.5 1785.2L2155.0 1789.6L2156.5 1783.8L2158.0 1784.9L2159.5 1783.8L2161.0 1784.4L2162.5 1784.4L2164.0 1782.6L2165.5 1783.3L2167.0 1788.3L2168.5 1784.2L2170.0 1786.0L2171.5 1782.0L2173.0 1783.7L2174.5 1784.5L2176.0 1782.9L2177.5 1782.0L2179.0 1782.2L2180.5 1782.2L2182.0 1783.0L2183.5 1783.1L2185.0 1778.2L2186.5 1776.2L2188.0 1778.7L2189.5 1778.3L2191.0 1778.8L2192.5 1778.7L2194.0 1775.1L2195.5 1779.2L2197.0 1775.7L2198.5 1772.1L2200.0 1776.6L2201.5 1775.6L2203.0 1775.9L2204.5 1773.2L2206.0 1776.0L2207.5 1777.4L2209.0 1777.6L2210.5 1779.9L2212.0 1781.6L2213.5 1782.8L2215.0 1783.1L2216.5 1781.3L2218.0 1785.1L2219.5 1783.1L2221.0 1784.5L2222.5 1782.9L2224.0 1781.1L2225.5 1779.7L2227.0 1783.7L2228.5 1782.0L2230.0 1782.8L2231.5 1783.9L2233.0 1779.3L2234.5 1778.2L2236.0 1780.9L2237.5 1780.2L2239.0 1778.1L2240.5 1776.4L2242.0 1773.1L2243.5 1773.9L2245.0 1770.5L2246.5 1769.8L2248.0 1767.4L2249.5 1760.9L2251.0 1757.9L2252.5 1751.9L2254.0 1746.2L2255.5 1740.1L2257.0 1730.1L2258.5 1720.7L2260.0 1710.4L2261.5 1697.2L2263.0 1686.2L2264.5 1675.0L2266.0 1665.0L2267.5 1654.6L2269.0 1647.4L2270.5 1635.2L2272.0 1633.4L2273.5 1630.4L2275.0 1635.6L2276.5 1639.8L2278.0 1653.0L2279.5 1662.3L2281.0 1670.0L2282.5 1683.5L2284.0 1695.0L2285.5 1706.9L2287.0 1714.7L2288.5 1721.7L2290.0 1728.4L2291.5 1735.3L2293.0 1739.2L2294.5 1741.0L2296.0 1741.5L2297.5 1745.9L2299.0 1742.2L2300.5 1741.1L2302.0 1740.0L2303.5 1734.6L2305.0 1731.8L2306.5 1722.5L2308.0 1719.7L2309.5 1709.9L2311.0 1703.3L2312.5 1698.2L2314.0 1695.2L2315.5 1690.1L2317.0 1686.9L2318.5 1691.3L2320.0 1689.6L2321.5 1694.8L2323.0 1700.7L2324.5 1705.8L2326.0 1714.2L2327.5 1721.8L2329.0 1727.7L2330.5 1736.4L2332.0 1740.1L2333.5 1745.1L2335.0 1752.5L2336.5 1755.1L2338.0 1761.4L2339.5 1764.0L2341.0 1766.3L2342.5 1770.5L2344.0 1772.4L2345.5 1768.2L2347.0 1774.0L2348.5 1775.8L2350.0 1777.3L2351.5 1776.3L2353.0 1775.9L2354.5 1779.2L2356.0 1781.3L2357.5 1777.7L2359.0 1779.6L2360.5 1782.1L2362.0 1779.6L2363.5 1783.9L2365.0 1787.1L2366.5 1784.8L2368.0 1787.6L2369.5 1786.7L2371.0 1789.7L2372.5 1790.9L2374.0 1792.7L2375.5 1791.4L2377.0 1793.8L2378.5 1793.2" stroke="#fd2e48" stroke-width="12"/>
<path d="M200.6 1438.0L202.1 1437.9L204.1 1438.2L206.4 1438.4L209.1 1437.8L212.0 1435.8L215.0 1432.0L218.3 1424.7L221.9 1414.1L225.7 1402.2L229.6 1390.9L233.4 1382.2L237.0 1378.0L240.4 1379.6L243.7 1385.6L246.9 1394.1L250.1 1403.4L253.1 1411.7L256.0 1417.0L258.7 1419.0L261.0 1419.1L263.3 1418.1L265.6 1416.8L268.1 1416.2L271.0 1417.0L274.3 1419.7L277.9 1423.8L281.8 1428.4L285.6 1433.0L289.4 1436.8L293.0 1439.0L296.3 1439.8L299.4 1439.6L302.5 1438.7L305.6 1437.0L308.7 1434.8L312.0 1432.0L315.5 1427.8L319.1 1421.9L322.8 1415.4L326.6 1409.4L330.3 1404.9L334.0 1403.0L337.6 1405.0L341.0 1410.3L344.4 1417.1L348.0 1423.7L351.8 1428.3L356.0 1429.0L360.7 1424.1L365.8 1414.7L371.1 1403.2L376.6 1392.3L381.9 1384.4L387.0 1382.0L391.9 1387.2L396.8 1398.5L401.6 1412.8L406.3 1427.1L410.8 1438.5L415.0 1444.0L418.9 1442.0L422.4 1434.4L425.8 1423.9L429.1 1413.1L432.5 1404.6L436.0 1401.0L439.7 1403.1L443.4 1409.1L447.1 1417.4L451.0 1426.4L454.9 1434.5L459.0 1440.0L463.3 1443.2L467.9 1445.4L472.6 1446.8L477.2 1447.2L481.7 1446.9L486.0 1446.0L489.9 1443.5L493.5 1439.1L496.9 1434.1L500.4 1429.3L504.0 1425.9L508.0 1425.0L512.3 1427.4L517.0 1432.3L521.8 1438.6L526.6 1445.1L531.4 1450.7L536.0 1454.0L540.4 1455.3L544.6 1455.7L548.8 1455.0L553.0 1453.3L557.4 1450.7L562.0 1447.0L566.6 1440.6L571.0 1431.2L575.6 1420.8L580.6 1411.4L586.3 1405.1L593.0 1404.0L601.2 1410.3L610.9 1422.9L621.2 1438.6L631.6 1454.2L641.4 1466.7L650.0 1473.0L657.2 1471.3L663.4 1463.7L669.1 1453.0L674.5 1441.9L680.0 1433.0L686.0 1429.0L692.6 1432.3L699.4 1441.2L706.4 1452.4L713.3 1462.4L719.9 1468.1L726.0 1466.0L731.6 1452.2L736.8 1428.6L741.7 1400.5L746.4 1373.4L751.2 1352.8L756.0 1344.0L761.0 1350.3L766.0 1368.0L771.1 1392.2L776.0 1417.7L780.6 1439.7L785.0 1453.0L789.0 1456.6L792.6 1454.1L796.1 1448.1L799.4 1440.9L802.7 1434.7L806.0 1432.0L809.2 1434.6L812.0 1441.0L814.8 1448.5L817.9 1454.4L821.5 1456.2L826.0 1451.0L831.6 1434.5L838.3 1408.0L845.5 1377.2L852.8 1348.1L859.8 1326.4L866.0 1318.0L871.6 1326.7L876.9 1348.6L881.8 1378.0L886.4 1409.0L890.5 1436.0L894.0 1453.0L896.9 1459.7L899.1 1460.6L900.8 1457.4L902.3 1451.8L903.6 1445.4L905.0 1440.0L906.4 1435.0L907.7 1429.0L908.9 1422.3L910.0 1415.1L911.1 1407.6L912.0 1400.0L912.8 1393.1L913.5 1386.9L914.1 1380.4L914.7 1372.7L915.3 1362.9L916.0 1350.0L916.8 1333.2L917.6 1313.2L918.4 1291.1L919.3 1267.9L920.1 1244.8L921.0 1223.0L921.9 1201.6L922.8 1179.6L923.8 1157.6L924.7 1136.6L925.6 1117.1L926.5 1100.0L927.3 1085.4L928.1 1072.6L928.8 1061.5L929.5 1051.7L930.2 1043.0L931.0 1035.0L931.8 1028.0L932.6 1022.3L933.5 1017.7L934.3 1013.9L935.2 1010.7L936.0 1008.0L936.8 1005.7L937.7 1003.9L938.5 1002.7L939.3 1002.3L940.2 1002.7L941.0 1004.0L941.8 1006.2L942.7 1009.2L943.5 1013.0L944.4 1017.7L945.2 1023.4L946.0 1030.0L946.8 1037.5L947.6 1045.6L948.4 1054.8L949.2 1065.0L949.9 1076.7L950.5 1090.0L951.0 1105.2L951.4 1122.2L951.7 1140.6L952.0 1160.0L952.2 1179.9L952.5 1200.0L952.8 1221.1L953.0 1243.7L953.2 1266.9L953.4 1289.6L953.7 1311.0L954.0 1330.0L954.4 1346.8L954.7 1362.2L955.2 1376.2L955.6 1388.9L956.3 1400.1L957.0 1410.0L957.9 1418.1L958.9 1424.4L959.9 1429.2L961.1 1433.2L962.5 1436.6L964.0 1440.0L965.6 1443.1L967.4 1445.5L969.3 1447.4L971.4 1449.0L973.6 1450.4L976.0 1452.0L978.6 1453.8L981.4 1455.7L984.4 1457.6L987.6 1459.0L990.8 1459.9L994.0 1460.0L997.1 1458.7L1000.1 1456.3L1003.2 1453.2L1006.6 1450.2L1010.5 1447.9L1015.0 1447.0L1020.6 1448.0L1027.1 1450.5L1034.1 1453.7L1041.0 1456.9L1047.5 1459.2L1053.0 1460.0L1057.4 1458.6L1061.0 1455.6L1064.1 1451.8L1066.9 1448.0L1069.8 1445.2L1073.0 1444.0L1076.4 1445.2L1079.9 1448.0L1083.4 1451.8L1087.0 1455.6L1090.5 1458.6L1094.0 1460.0L1097.5 1459.3L1101.1 1457.0L1104.8 1453.9L1108.3 1450.8L1111.7 1448.2L1115.0 1447.0L1118.0 1447.5L1120.7 1449.3L1123.3 1451.6L1126.0 1454.0L1128.8 1455.6L1132.0 1456.0L1135.4 1454.4L1138.9 1451.3L1142.5 1447.5L1146.5 1443.9L1150.9 1441.5L1156.0 1441.0L1162.0 1443.5L1169.0 1448.4L1176.5 1454.5L1184.0 1460.3L1191.0 1464.6L1197.0 1466.0L1201.9 1463.7L1206.1 1458.5L1209.8 1451.8L1213.3 1444.7L1217.0 1438.7L1221.0 1435.0L1225.5 1433.5L1230.3 1433.3L1235.2 1434.1L1240.1 1435.7L1244.8 1437.7L1249.0 1440.0L1252.8 1443.2L1256.4 1447.8L1259.7 1452.8L1262.9 1457.6L1265.9 1461.2L1269.0 1463.0L1272.0 1462.2L1274.9 1459.4L1277.7 1455.4L1280.4 1451.4L1283.2 1448.3L1286.0 1447.0L1288.8 1448.4L1291.4 1451.9L1294.1 1456.2L1296.8 1460.3L1299.8 1463.0L1303.0 1463.0L1306.7 1459.4L1310.8 1452.8L1315.1 1444.8L1319.3 1436.8L1323.4 1430.4L1327.0 1427.0L1330.0 1427.3L1332.7 1430.3L1335.1 1434.8L1337.4 1439.8L1340.0 1444.2L1343.0 1447.0L1346.5 1447.9L1350.4 1447.9L1354.6 1447.2L1358.7 1446.4L1362.5 1445.9L1366.0 1446.0L1368.8 1448.2L1371.0 1452.3L1373.1 1456.7L1375.2 1459.6L1377.7 1459.3L1381.0 1454.0L1385.2 1440.2L1390.0 1418.6L1395.3 1393.8L1400.7 1370.4L1406.1 1352.9L1411.0 1346.0L1415.6 1352.7L1420.1 1369.8L1424.5 1392.9L1428.8 1417.5L1432.9 1439.0L1437.0 1453.0L1440.8 1458.6L1444.2 1459.2L1447.5 1456.8L1450.9 1453.2L1454.7 1450.3L1459.0 1450.0L1464.1 1452.5L1470.0 1456.4L1476.1 1461.0L1482.3 1465.6L1488.0 1469.5L1493.0 1472.0L1497.1 1472.8L1500.7 1472.5L1503.8 1471.4L1506.8 1470.2L1509.8 1469.2L1513.0 1469.0L1516.4 1469.7L1519.9 1471.0L1523.4 1472.5L1527.0 1474.0L1530.5 1475.3L1534.0 1476.0L1537.4 1476.0L1540.6 1475.4L1543.8 1474.6L1547.2 1473.8L1550.9 1473.2L1555.0 1473.0L1559.7 1473.5L1565.0 1474.5L1570.5 1475.7L1576.1 1476.9L1581.7 1477.7L1587.0 1478.0L1592.1 1477.5L1597.2 1476.5L1602.2 1475.2L1607.0 1473.8L1611.7 1472.7L1616.0 1472.0L1619.9 1472.0L1623.5 1472.4L1626.8 1473.1L1630.1 1473.8L1633.4 1474.2L1637.0 1474.0L1640.8 1473.2L1644.7 1472.0L1648.7 1470.4L1652.7 1468.8L1656.8 1467.3L1661.0 1466.0L1665.2 1465.1L1669.4 1464.3L1673.7 1463.7L1678.0 1463.0L1682.5 1462.1L1687.0 1461.0L1691.6 1459.6L1696.3 1458.0L1701.1 1456.3L1705.9 1454.4L1710.9 1452.3L1716.0 1450.0L1721.3 1448.7L1726.9 1448.7L1732.5 1448.5L1738.1 1446.6L1743.7 1441.6L1749.0 1432.0L1754.2 1414.4L1759.4 1389.5L1764.4 1361.4L1769.3 1334.4L1773.8 1312.9L1778.0 1301.0L1781.6 1300.3L1784.9 1307.7L1787.8 1320.5L1790.5 1336.1L1793.2 1351.8L1796.0 1365.0L1798.8 1376.7L1801.5 1389.3L1804.1 1402.0L1806.9 1414.1L1809.8 1425.0L1813.0 1434.0L1816.5 1441.1L1820.3 1446.9L1824.3 1451.5L1828.4 1454.9L1832.7 1457.0L1837.0 1458.0L1841.3 1456.8L1845.7 1453.2L1850.1 1448.4L1854.8 1443.7L1859.7 1440.1L1865.0 1439.0L1870.8 1441.1L1877.2 1445.5L1883.8 1451.2L1890.5 1456.9L1897.0 1461.6L1903.0 1464.0L1908.7 1463.7L1914.4 1461.6L1919.8 1458.4L1925.0 1454.9L1929.7 1451.9L1934.0 1450.0L1937.6 1449.8L1940.4 1450.9L1942.9 1452.3L1945.3 1453.5L1947.9 1453.6L1951.0 1452.0L1954.7 1447.7L1958.7 1441.0L1962.9 1433.3L1967.2 1425.9L1971.6 1420.0L1976.0 1417.0L1980.5 1417.9L1985.3 1421.8L1990.2 1427.3L1994.9 1432.9L1999.2 1436.9L2003.0 1438.0L2006.0 1437.1L2008.5 1435.7L2010.6 1432.8L2012.5 1427.5L2014.6 1418.9L2017.0 1406.0L2019.8 1386.4L2022.9 1360.4L2026.1 1331.0L2029.3 1301.4L2032.3 1274.7L2035.0 1254.0L2037.3 1238.7L2039.3 1226.1L2041.2 1216.4L2043.0 1209.8L2044.9 1206.3L2047.0 1206.0L2049.3 1209.2L2051.7 1215.7L2054.1 1225.3L2056.7 1237.9L2059.3 1253.2L2062.0 1271.0L2064.8 1294.1L2067.7 1323.1L2070.7 1354.8L2073.7 1386.0L2076.8 1413.5L2080.0 1434.0L2083.0 1446.6L2086.0 1453.6L2088.9 1456.9L2092.1 1458.2L2095.8 1459.3L2100.0 1462.0L2105.1 1466.3L2111.1 1470.8L2117.4 1475.1L2123.8 1478.9L2129.8 1481.6L2135.0 1483.0L2139.4 1482.5L2143.2 1480.4L2146.6 1477.3L2149.8 1473.9L2152.9 1470.9L2156.0 1469.0L2159.0 1468.5L2161.8 1469.0L2164.5 1469.9L2167.2 1470.6L2170.0 1470.5L2173.0 1469.0L2176.3 1465.4L2179.7 1460.0L2183.2 1453.8L2186.9 1447.9L2190.5 1443.3L2194.0 1441.0L2197.5 1442.4L2201.1 1447.0L2204.8 1452.9L2208.3 1458.3L2211.7 1461.3L2215.0 1460.0L2218.1 1454.2L2220.9 1445.1L2223.7 1433.8L2226.4 1420.7L2229.2 1406.9L2232.0 1393.0L2235.0 1377.6L2238.2 1359.7L2241.4 1341.0L2244.6 1323.1L2247.5 1307.5L2250.0 1296.0L2252.1 1288.8L2253.8 1284.8L2255.2 1283.1L2256.7 1283.1L2258.2 1284.0L2260.0 1285.0L2262.1 1286.5L2264.4 1289.2L2266.9 1292.8L2269.3 1296.9L2271.7 1301.4L2274.0 1306.0L2276.0 1311.4L2277.9 1318.0L2279.7 1324.9L2281.6 1331.3L2283.6 1336.3L2286.0 1339.0L2288.8 1338.4L2291.9 1334.8L2295.2 1329.9L2298.6 1325.1L2301.9 1321.9L2305.0 1322.0L2308.0 1325.5L2310.9 1331.2L2313.8 1338.6L2316.6 1347.0L2319.4 1356.0L2322.0 1365.0L2324.5 1374.5L2326.8 1385.3L2329.0 1396.5L2331.2 1407.6L2333.5 1418.0L2336.0 1427.0L2338.6 1434.8L2341.2 1441.8L2343.9 1448.1L2346.8 1453.6L2349.8 1458.3L2353.0 1462.0L2356.8 1464.5L2361.1 1465.8L2365.6 1466.2L2369.8 1466.1L2373.4 1465.9L2376.0 1466.0" stroke="#b476d8" stroke-width="11"/>
<path d="M200.5 2078.0L202.0 2083.3L203.5 2083.0L205.0 2076.7L206.5 2077.8L208.0 2077.2L209.5 2081.6L211.0 2079.5L212.5 2082.7L214.0 2073.2L215.5 2086.3L217.0 2080.3L218.5 2083.5L220.0 2080.7L221.5 2080.0L223.0 2083.4L224.5 2085.0L226.0 2081.4L227.5 2081.9L229.0 2085.2L230.5 2079.7L232.0 2077.6L233.5 2084.9L235.0 2081.2L236.5 2076.9L238.0 2081.2L239.5 2082.7L241.0 2080.3L242.5 2079.5L244.0 2085.3L245.5 2088.7L247.0 2084.9L248.5 2083.2L250.0 2087.6L251.5 2089.1L253.0 2085.6L254.5 2088.9L256.0 2091.0L257.5 2086.7L259.0 2084.8L260.5 2089.2L262.0 2089.1L263.5 2092.4L265.0 2084.1L266.5 2086.6L268.0 2086.2L269.5 2083.3L271.0 2090.2L272.5 2091.9L274.0 2087.6L275.5 2095.4L277.0 2093.7L278.5 2093.2L280.0 2092.7L281.5 2094.9L283.0 2087.0L284.5 2094.2L286.0 2094.4L287.5 2086.3L289.0 2094.0L290.5 2092.1L292.0 2096.0L293.5 2092.0L295.0 2093.7L296.5 2095.2L298.0 2091.2L299.5 2096.6L301.0 2094.4L302.5 2096.7L304.0 2093.4L305.5 2099.1L307.0 2097.7L308.5 2095.2L310.0 2098.2L311.5 2100.5L313.0 2102.6L314.5 2091.2L316.0 2099.9L317.5 2098.6L319.0 2096.9L320.5 2094.0L322.0 2101.9L323.5 2093.6L325.0 2100.0L326.5 2102.7L328.0 2093.1L329.5 2097.7L331.0 2094.5L332.5 2099.9L334.0 2104.4L335.5 2106.3L337.0 2093.7L338.5 2098.0L340.0 2102.5L341.5 2105.6L343.0 2102.0L344.5 2098.3L346.0 2101.9L347.5 2101.1L349.0 2100.7L350.5 2099.1L352.0 2103.1L353.5 2103.0L355.0 2101.9L356.5 2101.7L358.0 2098.4L359.5 2101.2L361.0 2107.0L362.5 2102.6L364.0 2098.7L365.5 2108.0L367.0 2105.6L368.5 2110.9L370.0 2104.5L371.5 2103.0L373.0 2100.0L374.5 2109.2L376.0 2113.4L377.5 2102.6L379.0 2103.4L380.5 2107.6L382.0 2103.2L383.5 2105.2L385.0 2105.2L386.5 2107.1L388.0 2110.2L389.5 2107.0L391.0 2110.1L392.5 2106.0L394.0 2108.6L395.5 2101.0L397.0 2103.4L398.5 2110.7L400.0 2106.5L401.5 2110.4L403.0 2110.5L404.5 2113.1L406.0 2111.6L407.5 2112.4L409.0 2109.0L410.5 2107.4L412.0 2107.4L413.5 2108.3L415.0 2106.5L416.5 2108.5L418.0 2110.0L419.5 2111.3L421.0 2109.6L422.5 2104.8L424.0 2110.7L425.5 2111.8L427.0 2114.6L428.5 2113.2L430.0 2109.6L431.5 2109.5L433.0 2118.0L434.5 2114.3L436.0 2117.8L437.5 2118.8L439.0 2110.0L440.5 2113.8L442.0 2114.2L443.5 2114.7L445.0 2114.8L446.5 2113.9L448.0 2114.0L449.5 2109.1L451.0 2113.2L452.5 2111.7L454.0 2114.4L455.5 2112.8L457.0 2116.2L458.5 2117.0L460.0 2115.6L461.5 2115.8L463.0 2115.3L464.5 2113.8L466.0 2114.8L467.5 2114.0L469.0 2116.8L470.5 2115.8L472.0 2117.6L473.5 2112.2L475.0 2118.8L476.5 2114.1L478.0 2114.4L479.5 2116.1L481.0 2115.2L482.5 2117.8L484.0 2115.5L485.5 2114.2L487.0 2115.0L488.5 2121.4L490.0 2117.9L491.5 2114.5L493.0 2118.1L494.5 2113.7L496.0 2123.6L497.5 2114.1L499.0 2120.0L500.5 2120.2L502.0 2114.5L503.5 2119.6L505.0 2121.7L506.5 2120.2L508.0 2119.7L509.5 2121.7L511.0 2119.5L512.5 2120.1L514.0 2118.8L515.5 2121.0L517.0 2116.6L518.5 2121.6L520.0 2118.0L521.5 2116.4L523.0 2120.6L524.5 2124.4L526.0 2122.4L527.5 2118.3L529.0 2121.7L530.5 2118.5L532.0 2119.5L533.5 2120.2L535.0 2113.5L536.5 2120.6L538.0 2117.2L539.5 2118.2L541.0 2116.1L542.5 2116.1L544.0 2117.7L545.5 2122.7L547.0 2125.1L548.5 2120.5L550.0 2123.6L551.5 2119.9L553.0 2115.4L554.5 2121.2L556.0 2122.0L557.5 2119.7L559.0 2121.8L560.5 2122.6L562.0 2118.7L563.5 2117.1L565.0 2120.6L566.5 2120.6L568.0 2120.3L569.5 2124.0L571.0 2126.1L572.5 2120.3L574.0 2123.4L575.5 2124.1L577.0 2123.5L578.5 2124.5L580.0 2120.7L581.5 2123.8L583.0 2127.3L584.5 2124.0L586.0 2120.3L587.5 2123.6L589.0 2125.4L590.5 2123.1L592.0 2120.7L593.5 2126.4L595.0 2119.1L596.5 2123.9L598.0 2122.6L599.5 2119.6L601.0 2126.0L602.5 2123.8L604.0 2120.0L605.5 2124.7L607.0 2122.1L608.5 2118.4L610.0 2121.6L611.5 2124.2L613.0 2125.3L614.5 2124.2L616.0 2124.0L617.5 2125.2L619.0 2123.5L620.5 2127.2L622.0 2124.6L623.5 2125.1L625.0 2125.9L626.5 2121.8L628.0 2122.8L629.5 2128.7L631.0 2125.7L632.5 2124.2L634.0 2125.9L635.5 2123.9L637.0 2126.0L638.5 2123.7L640.0 2126.1L641.5 2121.5L643.0 2129.0L644.5 2124.4L646.0 2121.8L647.5 2125.4L649.0 2125.1L650.5 2126.5L652.0 2123.3L653.5 2127.3L655.0 2135.5L656.5 2123.3L658.0 2127.4L659.5 2125.9L661.0 2127.2L662.5 2122.3L664.0 2124.1L665.5 2128.1L667.0 2127.0L668.5 2131.2L670.0 2125.5L671.5 2127.7L673.0 2134.4L674.5 2125.3L676.0 2125.0L677.5 2127.1L679.0 2127.1L680.5 2129.2L682.0 2127.5L683.5 2125.3L685.0 2127.6L686.5 2133.5L688.0 2130.1L689.5 2120.3L691.0 2126.6L692.5 2124.8L694.0 2128.4L695.5 2126.5L697.0 2131.5L698.5 2129.0L700.0 2128.9L701.5 2127.1L703.0 2126.5L704.5 2127.4L706.0 2129.6L707.5 2127.7L709.0 2125.5L710.5 2129.3L712.0 2126.6L713.5 2125.8L715.0 2124.0L716.5 2124.4L718.0 2124.1L719.5 2118.8L721.0 2127.6L722.5 2126.3L724.0 2124.1L725.5 2126.6L727.0 2124.6L728.5 2123.6L730.0 2115.9L731.5 2119.6L733.0 2119.2L734.5 2118.9L736.0 2115.6L737.5 2109.5L739.0 2096.7L740.5 2085.5L742.0 2080.8L743.5 2065.9L745.0 2051.5L746.5 2029.5L748.0 2008.0L749.5 1979.0L751.0 1956.4L752.5 1925.7L754.0 1898.5L755.5 1870.3L757.0 1842.5L758.5 1820.4L760.0 1801.1L761.5 1790.2L763.0 1783.6L764.5 1782.3L766.0 1790.5L767.5 1810.4L769.0 1826.4L770.5 1853.3L772.0 1879.2L773.5 1905.9L775.0 1934.5L776.5 1964.6L778.0 1991.4L779.5 2016.4L781.0 2033.6L782.5 2053.6L784.0 2070.3L785.5 2086.8L787.0 2088.3L788.5 2102.6L790.0 2106.6L791.5 2113.4L793.0 2114.8L794.5 2119.2L796.0 2123.7L797.5 2122.2L799.0 2123.3L800.5 2123.8L802.0 2121.7L803.5 2124.8L805.0 2123.3L806.5 2122.1L808.0 2123.8L809.5 2123.4L811.0 2125.5L812.5 2123.8L814.0 2122.6L815.5 2126.8L817.0 2125.7L818.5 2126.2L820.0 2124.6L821.5 2122.9L823.0 2122.0L824.5 2122.1L826.0 2124.5L827.5 2122.4L829.0 2118.7L830.5 2121.5L832.0 2118.2L833.5 2121.1L835.0 2117.8L836.5 2117.2L838.0 2119.6L839.5 2118.6L841.0 2114.6L842.5 2119.0L844.0 2121.1L845.5 2112.5L847.0 2118.3L848.5 2111.7L850.0 2110.6L851.5 2109.6L853.0 2105.1L854.5 2108.5L856.0 2104.1L857.5 2097.9L859.0 2094.1L860.5 2084.9L862.0 2077.8L863.5 2066.7L865.0 2041.6L866.5 2017.0L868.0 1982.0L869.5 1937.9L871.0 1883.4L872.5 1817.8L874.0 1753.7L875.5 1698.4L877.0 1655.0L878.5 1639.4L880.0 1656.6L881.5 1698.1L883.0 1751.5L884.5 1812.7L886.0 1874.6L887.5 1923.2L889.0 1971.4L890.5 2004.0L892.0 2036.5L893.5 2051.0L895.0 2061.9L896.5 2068.9L898.0 2068.9L899.5 2078.1L901.0 2081.3L902.5 2077.0L904.0 2079.5L905.5 2078.9L907.0 2073.3L908.5 2076.7L910.0 2075.6L911.5 2070.9L913.0 2067.3L914.5 2065.4L916.0 2056.6L917.5 2054.8L919.0 2050.8L920.5 2039.3L922.0 2035.3L923.5 2022.2L925.0 2006.0L926.5 1993.4L928.0 1970.2L929.5 1944.4L931.0 1903.7L932.5 1857.9L934.0 1788.9L935.5 1706.7L937.0 1599.4L938.5 1472.2L940.0 1326.2L941.5 1158.8L943.0 985.4L944.5 821.9L946.0 699.7L947.5 633.9L949.0 645.5L950.5 735.1L952.0 874.6L953.5 1042.7L955.0 1214.9L956.5 1378.3L958.0 1520.7L959.5 1639.4L961.0 1740.7L962.5 1818.9L964.0 1878.2L965.5 1925.9L967.0 1958.2L968.5 1984.8L970.0 2005.9L971.5 2020.6L973.0 2034.6L974.5 2041.0L976.0 2054.5L977.5 2057.6L979.0 2065.0L980.5 2068.2L982.0 2076.6L983.5 2082.1L985.0 2085.5L986.5 2088.4L988.0 2087.1L989.5 2091.3L991.0 2094.3L992.5 2095.7L994.0 2101.5L995.5 2101.7L997.0 2103.0L998.5 2105.5L1000.0 2104.4L1001.5 2105.8L1003.0 2107.1L1004.5 2110.7L1006.0 2111.5L1007.5 2113.0L1009.0 2114.8L1010.5 2111.3L1012.0 2113.5L1013.5 2115.6L1015.0 2113.6L1016.5 2115.8L1018.0 2119.2L1019.5 2120.0L1021.0 2120.5L1022.5 2119.2L1024.0 2119.2L1025.5 2122.1L1027.0 2119.9L1028.5 2121.6L1030.0 2123.9L1031.5 2121.2L1033.0 2121.2L1034.5 2122.6L1036.0 2124.1L1037.5 2124.2L1039.0 2124.0L1040.5 2125.0L1042.0 2121.4L1043.5 2123.1L1045.0 2125.2L1046.5 2123.5L1048.0 2123.0L1049.5 2123.5L1051.0 2124.3L1052.5 2125.9L1054.0 2124.6L1055.5 2127.1L1057.0 2129.9L1058.5 2126.8L1060.0 2129.6L1061.5 2128.0L1063.0 2125.7L1064.5 2127.4L1066.0 2126.3L1067.5 2129.6L1069.0 2126.3L1070.5 2130.9L1072.0 2129.7L1073.5 2125.2L1075.0 2130.4L1076.5 2131.9L1078.0 2127.9L1079.5 2131.2L1081.0 2126.4L1082.5 2130.2L1084.0 2126.9L1085.5 2130.9L1087.0 2126.9L1088.5 2125.5L1090.0 2131.1L1091.5 2134.6L1093.0 2129.6L1094.5 2132.2L1096.0 2131.1L1097.5 2130.4L1099.0 2132.2L1100.5 2134.1L1102.0 2129.1L1103.5 2132.4L1105.0 2132.1L1106.5 2129.1L1108.0 2134.6L1109.5 2135.3L1111.0 2130.2L1112.5 2135.1L1114.0 2132.2L1115.5 2131.9L1117.0 2135.0L1118.5 2132.8L1120.0 2133.1L1121.5 2135.3L1123.0 2135.0L1124.5 2134.4L1126.0 2130.4L1127.5 2130.1L1129.0 2135.0L1130.5 2131.5L1132.0 2133.5L1133.5 2131.4L1135.0 2133.0L1136.5 2131.2L1138.0 2136.4L1139.5 2131.8L1141.0 2133.5L1142.5 2133.4L1144.0 2136.0L1145.5 2131.4L1147.0 2134.0L1148.5 2133.7L1150.0 2135.1L1151.5 2135.1L1153.0 2133.5L1154.5 2134.8L1156.0 2133.8L1157.5 2135.4L1159.0 2134.4L1160.5 2133.5L1162.0 2134.7L1163.5 2135.5L1165.0 2138.9L1166.5 2134.1L1168.0 2135.6L1169.5 2137.7L1171.0 2131.5L1172.5 2132.2L1174.0 2133.2L1175.5 2135.2L1177.0 2139.8L1178.5 2136.2L1180.0 2137.7L1181.5 2135.3L1183.0 2131.4L1184.5 2131.7L1186.0 2137.7L1187.5 2136.3L1189.0 2133.7L1190.5 2138.0L1192.0 2133.4L1193.5 2138.2L1195.0 2138.8L1196.5 2135.0L1198.0 2134.4L1199.5 2137.9L1201.0 2134.5L1202.5 2138.0L1204.0 2134.4L1205.5 2138.0L1207.0 2136.7L1208.5 2135.8L1210.0 2135.0L1211.5 2137.1L1213.0 2133.3L1214.5 2136.2L1216.0 2136.0L1217.5 2137.9L1219.0 2134.5L1220.5 2139.8L1222.0 2136.3L1223.5 2134.8L1225.0 2139.3L1226.5 2139.8L1228.0 2136.6L1229.5 2135.3L1231.0 2137.0L1232.5 2135.7L1234.0 2136.4L1235.5 2139.7L1237.0 2137.7L1238.5 2137.3L1240.0 2137.6L1241.5 2137.0L1243.0 2138.6L1244.5 2138.6L1246.0 2136.5L1247.5 2137.3L1249.0 2141.4L1250.5 2137.9L1252.0 2136.8L1253.5 2140.8L1255.0 2137.2L1256.5 2135.3L1258.0 2138.4L1259.5 2135.6L1261.0 2136.4L1262.5 2137.8L1264.0 2137.0L1265.5 2135.9L1267.0 2136.3L1268.5 2136.3L1270.0 2139.4L1271.5 2136.1L1273.0 2136.3L1274.5 2140.9L1276.0 2136.4L1277.5 2140.0L1279.0 2139.7L1280.5 2137.1L1282.0 2134.9L1283.5 2138.2L1285.0 2138.6L1286.5 2139.1L1288.0 2137.5L1289.5 2139.5L1291.0 2139.8L1292.5 2135.5L1294.0 2139.9L1295.5 2137.7L1297.0 2136.4L1298.5 2136.8L1300.0 2140.7L1301.5 2139.1L1303.0 2134.2L1304.5 2137.5L1306.0 2137.1L1307.5 2137.0L1309.0 2136.4L1310.5 2134.8L1312.0 2138.8L1313.5 2135.6L1315.0 2136.6L1316.5 2136.2L1318.0 2136.0L1319.5 2138.5L1321.0 2137.9L1322.5 2136.0L1324.0 2135.5L1325.5 2136.3L1327.0 2138.8L1328.5 2137.2L1330.0 2137.4L1331.5 2136.4L1333.0 2136.4L1334.5 2137.2L1336.0 2133.6L1337.5 2139.5L1339.0 2135.3L1340.5 2135.6L1342.0 2138.9L1343.5 2136.8L1345.0 2136.4L1346.5 2135.2L1348.0 2133.4L1349.5 2136.4L1351.0 2138.0L1352.5 2134.2L1354.0 2138.1L1355.5 2133.6L1357.0 2134.1L1358.5 2136.1L1360.0 2135.0L1361.5 2136.0L1363.0 2133.3L1364.5 2132.6L1366.0 2130.8L1367.5 2131.7L1369.0 2131.6L1370.5 2130.6L1372.0 2133.3L1373.5 2131.1L1375.0 2128.3L1376.5 2135.5L1378.0 2128.9L1379.5 2127.3L1381.0 2130.6L1382.5 2129.1L1384.0 2123.4L1385.5 2120.8L1387.0 2119.2L1388.5 2119.8L1390.0 2113.5L1391.5 2108.0L1393.0 2103.9L1394.5 2099.5L1396.0 2087.3L1397.5 2080.2L1399.0 2068.4L1400.5 2063.4L1402.0 2050.5L1403.5 2035.9L1405.0 2020.4L1406.5 2007.9L1408.0 1989.4L1409.5 1980.8L1411.0 1966.9L1412.5 1958.0L1414.0 1953.2L1415.5 1951.4L1417.0 1954.4L1418.5 1959.6L1420.0 1966.9L1421.5 1975.4L1423.0 1990.6L1424.5 2002.6L1426.0 2018.7L1427.5 2028.8L1429.0 2038.8L1430.5 2055.3L1432.0 2071.3L1433.5 2078.7L1435.0 2086.7L1436.5 2096.5L1438.0 2102.6L1439.5 2108.3L1441.0 2111.4L1442.5 2116.4L1444.0 2119.8L1445.5 2121.0L1447.0 2122.3L1448.5 2126.1L1450.0 2129.0L1451.5 2129.5L1453.0 2130.2L1454.5 2131.0L1456.0 2135.2L1457.5 2131.7L1459.0 2133.6L1460.5 2135.6L1462.0 2132.7L1463.5 2133.4L1465.0 2135.1L1466.5 2136.5L1468.0 2134.4L1469.5 2134.8L1471.0 2134.6L1472.5 2132.6L1474.0 2136.8L1475.5 2134.6L1477.0 2132.3L1478.5 2135.2L1480.0 2132.6L1481.5 2134.0L1483.0 2135.9L1484.5 2134.4L1486.0 2138.0L1487.5 2133.8L1489.0 2136.9L1490.5 2137.5L1492.0 2139.2L1493.5 2138.3L1495.0 2137.3L1496.5 2137.1L1498.0 2136.9L1499.5 2139.1L1501.0 2136.1L1502.5 2138.2L1504.0 2137.2L1505.5 2137.9L1507.0 2137.1L1508.5 2141.3L1510.0 2136.5L1511.5 2138.2L1513.0 2138.3L1514.5 2138.9L1516.0 2138.7L1517.5 2138.7L1519.0 2139.7L1520.5 2135.5L1522.0 2138.2L1523.5 2136.1L1525.0 2138.6L1526.5 2136.2L1528.0 2136.7L1529.5 2138.3L1531.0 2140.8L1532.5 2139.5L1534.0 2139.0L1535.5 2141.0L1537.0 2137.0L1538.5 2135.0L1540.0 2138.0L1541.5 2138.2L1543.0 2140.9L1544.5 2142.5L1546.0 2136.5L1547.5 2143.1L1549.0 2141.6L1550.5 2140.4L1552.0 2139.6L1553.5 2143.2L1555.0 2139.2L1556.5 2138.3L1558.0 2139.3L1559.5 2136.8L1561.0 2140.0L1562.5 2139.0L1564.0 2139.8L1565.5 2139.9L1567.0 2137.5L1568.5 2141.6L1570.0 2137.6L1571.5 2140.9L1573.0 2136.7L1574.5 2140.1L1576.0 2138.0L1577.5 2139.5L1579.0 2138.4L1580.5 2135.8L1582.0 2137.6L1583.5 2139.7L1585.0 2140.7L1586.5 2137.1L1588.0 2136.0L1589.5 2138.2L1591.0 2139.3L1592.5 2138.6L1594.0 2138.3L1595.5 2141.2L1597.0 2141.4L1598.5 2141.1L1600.0 2138.2L1601.5 2139.9L1603.0 2139.4L1604.5 2137.3L1606.0 2141.3L1607.5 2139.9L1609.0 2138.9L1610.5 2142.1L1612.0 2141.0L1613.5 2141.1L1615.0 2141.7L1616.5 2140.9L1618.0 2137.5L1619.5 2138.9L1621.0 2141.3L1622.5 2138.3L1624.0 2139.6L1625.5 2140.2L1627.0 2142.0L1628.5 2141.7L1630.0 2141.0L1631.5 2139.1L1633.0 2141.0L1634.5 2140.3L1636.0 2139.1L1637.5 2141.7L1639.0 2140.2L1640.5 2138.0L1642.0 2141.4L1643.5 2138.8L1645.0 2140.2L1646.5 2136.6L1648.0 2139.1L1649.5 2137.5L1651.0 2137.5L1652.5 2135.8L1654.0 2142.7L1655.5 2138.8L1657.0 2139.4L1658.5 2140.8L1660.0 2138.7L1661.5 2139.8L1663.0 2136.5L1664.5 2139.2L1666.0 2138.1L1667.5 2139.6L1669.0 2139.0L1670.5 2136.3L1672.0 2135.5L1673.5 2136.8L1675.0 2139.8L1676.5 2139.2L1678.0 2139.1L1679.5 2134.9L1681.0 2133.7L1682.5 2137.2L1684.0 2137.6L1685.5 2137.1L1687.0 2138.7L1688.5 2137.7L1690.0 2135.9L1691.5 2136.4L1693.0 2138.0L1694.5 2137.8L1696.0 2137.5L1697.5 2141.4L1699.0 2137.0L1700.5 2137.6L1702.0 2135.6L1703.5 2136.6L1705.0 2138.0L1706.5 2137.9L1708.0 2136.6L1709.5 2137.4L1711.0 2136.7L1712.5 2133.3L1714.0 2130.8L1715.5 2140.1L1717.0 2137.4L1718.5 2135.8L1720.0 2132.7L1721.5 2133.3L1723.0 2137.6L1724.5 2130.3L1726.0 2134.3L1727.5 2136.0L1729.0 2134.5L1730.5 2135.3L1732.0 2133.4L1733.5 2137.3L1735.0 2131.1L1736.5 2130.1L1738.0 2132.3L1739.5 2133.7L1741.0 2130.4L1742.5 2131.5L1744.0 2127.8L1745.5 2125.6L1747.0 2128.6L1748.5 2127.3L1750.0 2125.3L1751.5 2119.7L1753.0 2115.9L1754.5 2112.8L1756.0 2110.8L1757.5 2108.1L1759.0 2103.3L1760.5 2094.8L1762.0 2091.6L1763.5 2084.8L1765.0 2077.8L1766.5 2069.9L1768.0 2061.4L1769.5 2054.1L1771.0 2044.4L1772.5 2035.4L1774.0 2024.7L1775.5 2017.6L1777.0 2008.4L1778.5 1997.4L1780.0 1995.2L1781.5 1988.8L1783.0 1987.3L1784.5 1983.8L1786.0 1984.3L1787.5 1987.1L1789.0 1990.8L1790.5 1995.7L1792.0 2000.3L1793.5 2014.4L1795.0 2017.2L1796.5 2028.3L1798.0 2039.1L1799.5 2047.8L1801.0 2057.0L1802.5 2065.8L1804.0 2074.7L1805.5 2080.6L1807.0 2091.9L1808.5 2091.6L1810.0 2099.3L1811.5 2103.4L1813.0 2107.5L1814.5 2112.9L1816.0 2118.2L1817.5 2117.5L1819.0 2120.0L1820.5 2124.5L1822.0 2126.0L1823.5 2129.9L1825.0 2129.6L1826.5 2129.4L1828.0 2129.3L1829.5 2131.0L1831.0 2131.1L1832.5 2129.6L1834.0 2132.4L1835.5 2132.6L1837.0 2132.9L1838.5 2132.9L1840.0 2136.7L1841.5 2135.3L1843.0 2136.0L1844.5 2133.6L1846.0 2133.2L1847.5 2134.6L1849.0 2135.7L1850.5 2134.8L1852.0 2135.3L1853.5 2137.3L1855.0 2136.4L1856.5 2134.3L1858.0 2135.4L1859.5 2135.1L1861.0 2136.6L1862.5 2134.5L1864.0 2136.2L1865.5 2137.8L1867.0 2136.8L1868.5 2135.3L1870.0 2135.8L1871.5 2137.2L1873.0 2137.8L1874.5 2138.5L1876.0 2136.9L1877.5 2135.0L1879.0 2139.6L1880.5 2137.8L1882.0 2138.0L1883.5 2137.9L1885.0 2135.7L1886.5 2136.9L1888.0 2137.9L1889.5 2139.3L1891.0 2137.7L1892.5 2132.4L1894.0 2137.2L1895.5 2138.3L1897.0 2139.9L1898.5 2138.9L1900.0 2141.9L1901.5 2140.1L1903.0 2140.0L1904.5 2139.4L1906.0 2135.5L1907.5 2139.2L1909.0 2138.8L1910.5 2137.0L1912.0 2138.8L1913.5 2138.6L1915.0 2137.1L1916.5 2137.7L1918.0 2137.4L1919.5 2138.3L1921.0 2137.2L1922.5 2138.8L1924.0 2134.7L1925.5 2137.4L1927.0 2135.1L1928.5 2137.1L1930.0 2138.7L1931.5 2137.9L1933.0 2137.7L1934.5 2138.0L1936.0 2140.4L1937.5 2136.0L1939.0 2139.3L1940.5 2135.3L1942.0 2137.0L1943.5 2138.0L1945.0 2136.3L1946.5 2138.1L1948.0 2138.9L1949.5 2135.7L1951.0 2137.5L1952.5 2137.0L1954.0 2134.3L1955.5 2137.2L1957.0 2136.2L1958.5 2139.7L1960.0 2136.0L1961.5 2140.2L1963.0 2136.4L1964.5 2140.5L1966.0 2138.1L1967.5 2137.9L1969.0 2138.4L1970.5 2138.5L1972.0 2139.3L1973.5 2139.8L1975.0 2136.3L1976.5 2134.7L1978.0 2132.2L1979.5 2135.9L1981.0 2137.8L1982.5 2137.0L1984.0 2136.5L1985.5 2135.6L1987.0 2135.0L1988.5 2135.4L1990.0 2136.4L1991.5 2132.7L1993.0 2136.7L1994.5 2132.9L1996.0 2134.9L1997.5 2133.9L1999.0 2134.1L2000.5 2132.8L2002.0 2132.3L2003.5 2133.6L2005.0 2131.9L2006.5 2137.4L2008.0 2132.4L2009.5 2131.6L2011.0 2131.3L2012.5 2129.9L2014.0 2127.1L2015.5 2130.1L2017.0 2130.4L2018.5 2126.6L2020.0 2128.3L2021.5 2125.3L2023.0 2126.2L2024.5 2125.6L2026.0 2124.4L2027.5 2122.7L2029.0 2118.8L2030.5 2119.0L2032.0 2113.9L2033.5 2111.7L2035.0 2108.1L2036.5 2101.5L2038.0 2093.9L2039.5 2090.0L2041.0 2078.9L2042.5 2069.9L2044.0 2059.0L2045.5 2050.4L2047.0 2035.9L2048.5 2018.9L2050.0 2009.9L2051.5 1998.4L2053.0 1985.3L2054.5 1970.7L2056.0 1964.1L2057.5 1961.1L2059.0 1962.4L2060.5 1965.9L2062.0 1972.6L2063.5 1987.0L2065.0 1999.7L2066.5 2010.2L2068.0 2025.5L2069.5 2039.7L2071.0 2051.6L2072.5 2063.7L2074.0 2074.1L2075.5 2082.5L2077.0 2089.1L2078.5 2093.5L2080.0 2102.2L2081.5 2108.1L2083.0 2112.8L2084.5 2112.6L2086.0 2115.1L2087.5 2119.6L2089.0 2121.3L2090.5 2121.0L2092.0 2122.8L2093.5 2121.3L2095.0 2124.4L2096.5 2122.8L2098.0 2124.5L2099.5 2125.1L2101.0 2125.1L2102.5 2123.0L2104.0 2125.6L2105.5 2128.0L2107.0 2127.8L2108.5 2127.6L2110.0 2129.4L2111.5 2130.1L2113.0 2130.7L2114.5 2128.3L2116.0 2129.9L2117.5 2129.6L2119.0 2129.0L2120.5 2128.2L2122.0 2130.7L2123.5 2129.7L2125.0 2134.8L2126.5 2131.3L2128.0 2131.3L2129.5 2131.2L2131.0 2135.1L2132.5 2130.6L2134.0 2132.0L2135.5 2131.2L2137.0 2132.4L2138.5 2132.6L2140.0 2134.6L2141.5 2130.6L2143.0 2133.0L2144.5 2135.8L2146.0 2132.4L2147.5 2133.0L2149.0 2132.0L2150.5 2129.2L2152.0 2133.4L2153.5 2135.6L2155.0 2133.0L2156.5 2130.5L2158.0 2133.7L2159.5 2133.2L2161.0 2134.4L2162.5 2134.0L2164.0 2131.8L2165.5 2132.6L2167.0 2128.7L2168.5 2133.0L2170.0 2131.1L2171.5 2132.1L2173.0 2131.5L2174.5 2128.6L2176.0 2128.2L2177.5 2126.2L2179.0 2123.3L2180.5 2125.5L2182.0 2124.9L2183.5 2121.8L2185.0 2123.5L2186.5 2121.3L2188.0 2120.6L2189.5 2117.4L2191.0 2114.6L2192.5 2117.7L2194.0 2116.5L2195.5 2114.6L2197.0 2113.5L2198.5 2113.4L2200.0 2113.6L2201.5 2113.1L2203.0 2111.0L2204.5 2116.0L2206.0 2112.9L2207.5 2115.4L2209.0 2116.1L2210.5 2117.7L2212.0 2115.3L2213.5 2120.4L2215.0 2120.0L2216.5 2120.6L2218.0 2121.8L2219.5 2118.6L2221.0 2115.0L2222.5 2120.6L2224.0 2122.1L2225.5 2121.6L2227.0 2118.2L2228.5 2118.3L2230.0 2118.2L2231.5 2113.9L2233.0 2114.9L2234.5 2113.9L2236.0 2116.4L2237.5 2111.6L2239.0 2113.8L2240.5 2109.7L2242.0 2105.1L2243.5 2109.3L2245.0 2101.7L2246.5 2101.4L2248.0 2099.8L2249.5 2092.2L2251.0 2086.5L2252.5 2084.9L2254.0 2077.3L2255.5 2068.4L2257.0 2061.1L2258.5 2053.8L2260.0 2047.0L2261.5 2036.4L2263.0 2028.9L2264.5 2021.4L2266.0 2011.8L2267.5 2003.6L2269.0 1995.8L2270.5 1985.1L2272.0 1985.3L2273.5 1981.7L2275.0 1981.2L2276.5 1982.0L2278.0 1985.6L2279.5 1992.3L2281.0 2001.1L2282.5 2006.8L2284.0 2015.2L2285.5 2023.1L2287.0 2032.2L2288.5 2036.9L2290.0 2042.5L2291.5 2049.1L2293.0 2049.6L2294.5 2053.1L2296.0 2051.4L2297.5 2053.5L2299.0 2052.3L2300.5 2050.7L2302.0 2047.4L2303.5 2043.8L2305.0 2042.2L2306.5 2039.1L2308.0 2039.0L2309.5 2036.6L2311.0 2031.7L2312.5 2033.9L2314.0 2032.2L2315.5 2034.7L2317.0 2035.1L2318.5 2036.2L2320.0 2043.6L2321.5 2046.5L2323.0 2048.0L2324.5 2051.4L2326.0 2058.0L2327.5 2061.3L2329.0 2066.9L2330.5 2072.4L2332.0 2077.4L2333.5 2077.8L2335.0 2083.5L2336.5 2085.8L2338.0 2085.6L2339.5 2085.8L2341.0 2091.8L2342.5 2093.4L2344.0 2098.1L2345.5 2098.6L2347.0 2099.7L2348.5 2103.4L2350.0 2101.4L2351.5 2106.0L2353.0 2107.8L2354.5 2113.8L2356.0 2114.6L2357.5 2111.5L2359.0 2121.2L2360.5 2120.1L2362.0 2125.2L2363.5 2125.5L2365.0 2128.8L2366.5 2131.4L2368.0 2132.4L2369.5 2132.2L2371.0 2137.4L2372.5 2137.1L2374.0 2137.6L2375.5 2139.8L2377.0 2138.8L2378.5 2143.4" stroke="#d29b00" stroke-width="12"/>
</g>
<g fill="#000">
<rect x="192.5" y="2171.5" width="2195.5" height="13.5"/>
<rect x="193.2" y="2171.5" width="14" height="41"/><rect x="375.2" y="2171.5" width="13" height="24.5"/><rect x="556.3" y="2171.5" width="14" height="41"/><rect x="738.3" y="2171.5" width="13" height="24.5"/><rect x="919.3" y="2171.5" width="14" height="41"/><rect x="1101.4" y="2171.5" width="13" height="24.5"/><rect x="1282.4" y="2171.5" width="14" height="41"/><rect x="1464.4" y="2171.5" width="13" height="24.5"/><rect x="1645.5" y="2171.5" width="14" height="41"/><rect x="1827.5" y="2171.5" width="13" height="24.5"/><rect x="2008.6" y="2171.5" width="14" height="41"/><rect x="2190.6" y="2171.5" width="13" height="24.5"/><rect x="2371.6" y="2171.5" width="14" height="41"/>
</g>
<g font-size="101" text-anchor="middle">
<text x="200.2" y="2318">20</text><text x="563.3" y="2318">30</text><text x="926.3" y="2318">40</text><text x="1289.4" y="2318">50</text><text x="1652.5" y="2318">60</text><text x="2015.6" y="2318">70</text><text x="2378.6" y="2318">80</text>
</g>
<text x="1026" y="2453" font-size="112">2 Theta (<tspan font-size="72" dx="1.5" dy="-46">o</tspan><tspan dx="5" dy="46">)</tspan></text>
<g transform="translate(128,1392) rotate(-90)" font-size="112"><text transform="scale(1,1.15)">I</text><text x="31.1">ntensity (a.u.)</text></g>
<g font-size="92">
<text x="1318" y="166">*- Anatase</text>
<text x="1316" y="442">x - α titanium</text>
<text x="1314" y="720">o - β titanium</text>
</g>
<g font-size="100" text-anchor="middle">
<text transform="translate(953,112) scale(0.94,1.02)">x</text>
<text x="875" y="358">o</text>
<text transform="translate(877,452) scale(0.94,1.02)">x</text>
<text transform="translate(763,1316) scale(0.94,1.02)">x</text>
<text x="389" y="1397">*</text>
<text transform="translate(1413,1318) scale(0.94,1.02)">x</text>
<text transform="translate(1784,1272) scale(0.94,1.02)">x</text>
<text x="2049" y="1098">o</text>
<text transform="translate(2049,1185) scale(0.94,1.02)">x</text>
<text x="2197" y="1455">*</text>
<text transform="translate(2259,1262) scale(0.94,1.02)">x</text>
<text transform="translate(2315,1305) scale(0.94,1.02)">x</text>
</g>
<g font-size="117">
<text x="2369" y="1439">e</text>
<text x="2365" y="1601">d</text>
<text x="2369" y="1774">c</text>
<text x="2366" y="1956">b</text>
<text x="2369" y="2059">a</text>
</g>
</g>
</svg>
</body></html>
